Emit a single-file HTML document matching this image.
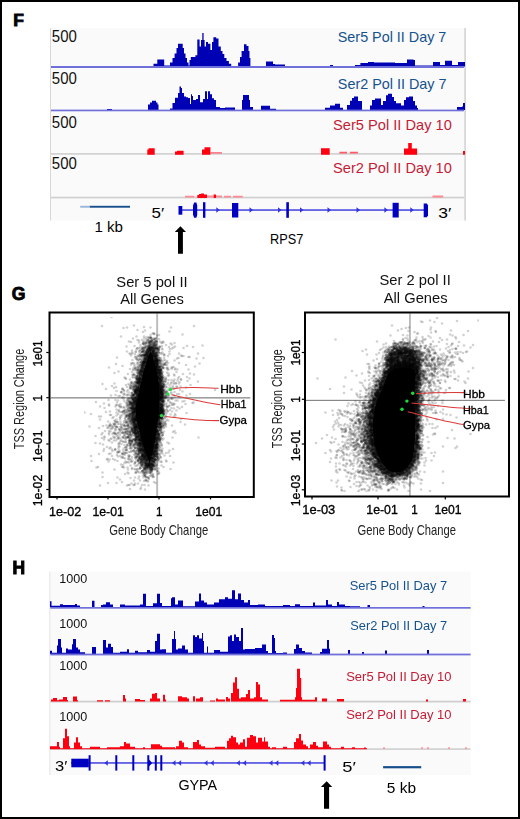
<!DOCTYPE html>
<html><head><meta charset="utf-8"><title>Figure</title>
<style>
html,body{margin:0;padding:0;background:#fff;}
body{width:520px;height:819px;overflow:hidden;position:relative;}
#frame{position:absolute;left:0;top:0;width:516px;height:815px;border:2px solid #000;background:#fff;}
svg{position:absolute;left:0;top:0;font-family:'Liberation Sans', sans-serif;}
</style></head><body>
<div id="frame"></div>
<svg width="520" height="819" viewBox="0 0 520 819">
<text x="13.2" y="25.7" font-size="17.4" fill="#000" stroke="#000" stroke-width="0.9" font-weight="bold">F</text>
<rect x="50" y="28" width="414.2" height="192.5" fill="#fafafa"/>
<rect x="50" y="28" width="1" height="192.5" fill="#d8d8d8"/>
<rect x="464.2" y="28" width="1.8" height="192.5" fill="#d8d8d8"/>
<path d="M153.5 66.5V63.8H157.3V66.5ZM157.3 66.5V59.6H164.2V66.5ZM164.2 66.5V65.5H170V66.5ZM170 66.5V62.6H172.5V66.5ZM172.5 66.5V58H174.6V66.5ZM174.6 66.5V53.4H176.5V66.5ZM176.5 66.5V48H178V66.5ZM178 66.5V43.7H182.7V66.5ZM182.7 66.5V48H184V66.5ZM184 66.5V53.4H185.5V66.5ZM185.5 66.5V58H187V66.5ZM187 66.5V62.6H188.5V66.5ZM188.5 66.5V65.5H189.5V66.5ZM189.5 66.5V60H190.8V66.5ZM190.8 66.5V56.9H195.4V66.5ZM195.4 66.5V55.2H197.3V66.5ZM197.3 66.5V39.5H199.6V66.5ZM199.6 66.5V46.5H201V66.5ZM201 66.5V40H202.3V66.5ZM202.3 66.5V33H203.6V66.5ZM203.6 66.5V40H204.6V66.5ZM204.6 66.5V46.5H206V66.5ZM206 66.5V42H208V66.5ZM208 66.5V43.7H210.4V66.5ZM210.4 66.5V50H212V66.5ZM212 66.5V42H213.4V66.5ZM213.4 66.5V37.2H216.2V66.5ZM216.2 66.5V38.4H218.5V66.5ZM218.5 66.5V46.5H220.8V66.5ZM220.8 66.5V51H222.5V66.5ZM222.5 66.5V54H224.3V66.5ZM224.3 66.5V58H226.5V66.5ZM226.5 66.5V61H228.9V66.5ZM228.9 66.5V63.8H231.2V66.5ZM238.1 66.5V62.6H240V66.5ZM240 66.5V57H241.6V66.5ZM241.6 66.5V51H244V66.5ZM244 66.5V44.2H246.5V66.5ZM246.5 66.5V46H248.5V66.5ZM248.5 66.5V51H249.5V66.5ZM249.5 66.5V58H250.4V66.5ZM266 66.5V61.5H273V66.5ZM273 66.5V64H275V66.5ZM275 66.5V64.5H285V66.5ZM330 66.5V65H333V66.5ZM355 66.5V65H360.4V66.5ZM360.4 66.5V63H368V66.5ZM368 66.5V62H374V66.5ZM374 66.5V62.5H378V66.5ZM378 66.5V62.4H395V66.5ZM395 66.5V63H407V66.5ZM407 66.5V59.6H413.5V66.5ZM413.5 66.5V60H415V66.5ZM415 66.5V65.5H433V66.5ZM433 66.5V62H440V66.5ZM440 66.5V65H445V66.5ZM445 66.5V60.8H451.6V66.5ZM451.6 66.5V60.8H452V66.5ZM452 66.5V65H458V66.5ZM458 66.5V62H465V66.5ZM465 66.5V62H465V66.5Z" fill="#0000b4"/>
<rect x="51" y="66" width="413" height="2" fill="#7070da"/>
<path d="M107 110V109.1H112V110ZM148 110V104.6H150V110ZM150 110V102.5H152V110ZM152 110V100.7H156V110ZM156 110V102.5H157.5V110ZM157.5 110V104.6H158.5V110ZM170 110V108.5H172.5V110ZM172.5 110V103H175V110ZM175 110V97.7H178V110ZM178 110V93H179.5V110ZM179.5 110V86.6H181V110ZM181 110V88H182V110ZM182 110V93H184V110ZM184 110V96.5H186V110ZM186 110V97.2H188V110ZM188 110V98H190V110ZM190 110V104H191V110ZM191 110V94.2H192V110ZM192 110V96H193V110ZM193 110V100H196V110ZM196 110V98.9H198V110ZM198 110V95H200V110ZM200 110V102.3H203V110ZM203 110V98.9H205V110ZM205 110V91.2H207V110ZM207 110V98.9H208V110ZM208 110V91.2H210V110ZM210 110V94.2H212V110ZM212 110V98.2H214V110ZM214 110V100H216V110ZM216 110V107H220V110ZM220 110V108.1H225V110ZM225 110V107.6H235V110ZM242 110V100H243V110ZM243 110V95H249V110ZM249 110V100H250V110ZM250 110V107H253V110ZM261 110V105.8H270V110ZM270 110V108.8H276V110ZM325 110V107.7H330V110ZM330 110V105.4H335V110ZM335 110V103.8H340V110ZM340 110V107.7H343V110ZM347 110V105H350V110ZM350 110V100.8H352V110ZM352 110V98H354V110ZM354 110V96.6H358V110ZM358 110V101H362V110ZM370 110V105.4H372V110ZM372 110V100H375V110ZM375 110V98.6H381V110ZM381 110V105H383V110ZM383 110V101H386V110ZM386 110V95.2H388V110ZM388 110V93.8H392V110ZM392 110V97H394V110ZM394 110V101H396V110ZM396 110V103.3H401V110ZM401 110V105.4H404V110ZM404 110V100H406V110ZM406 110V97.3H409V110ZM409 110V96.5H413V110ZM413 110V101H415V110ZM415 110V105.4H417V110ZM417 110V108H418V110ZM457 110V107H462V110ZM462 110V106.5H463V110ZM463 110V103H465V110ZM465 110V103H465V110Z" fill="#0000b4"/>
<rect x="51" y="109.6" width="413" height="1.7" fill="#7070da"/>
<rect x="51" y="153.1" width="413" height="1.6" fill="#cfcfcf"/>
<path d="M147.3 154.8V149.5H148.5V154.8ZM148.5 154.8V148.2H154.7V154.8ZM175 154.8V151.5H177V154.8ZM177 154.8V150.7H183.6V154.8ZM202 154.8V149.5H204.5V154.8ZM204.5 154.8V147.2H210.4V154.8ZM321 154.8V148.2H329.7V154.8ZM404 154.8V148.6H408.2V154.8ZM408.2 154.8V143.1H411.8V154.8ZM411.8 154.8V148.6H417.1V154.8ZM463 154.8V151H465V154.8Z" fill="#ff0010"/>
<path d="M210.4 153.4V152.2H222V153.4ZM339.4 153.4V151.8H347V153.4ZM349.8 153.4V151.8H357.9V153.4Z" fill="#ff5a6a"/>
<rect x="51" y="196.7" width="413" height="1.7" fill="#cfcfcf"/>
<path d="M197.3 198V195H199V198ZM199 198V194H201V198ZM201 198V193.4H204V198ZM204 198V194.5H207V198ZM213.5 198V194.5H216V198Z" fill="#ff0010"/>
<path d="M185 197.5V195.8H194.3V197.5ZM207 197.5V195.6H213.5V197.5ZM216 197.5V195.6H222V197.5ZM224 197.5V195.8H231V197.5ZM233 197.5V195.8H242.8V197.5ZM432.5 197.5V195.5H443.2V197.5Z" fill="#ff8a94"/>
<text x="51.8" y="41.8" font-size="16.3" fill="#111" textLength="25" lengthAdjust="spacingAndGlyphs">500</text>
<text x="51.8" y="84.2" font-size="16.3" fill="#111" textLength="25" lengthAdjust="spacingAndGlyphs">500</text>
<text x="51.8" y="127.8" font-size="16.3" fill="#111" textLength="25" lengthAdjust="spacingAndGlyphs">500</text>
<text x="51.8" y="168.8" font-size="16.3" fill="#111" textLength="25" lengthAdjust="spacingAndGlyphs">500</text>
<text x="337.8" y="41.5" font-size="15" fill="#16528e" textLength="108.5" lengthAdjust="spacingAndGlyphs">Ser5 Pol II Day 7</text>
<text x="337.8" y="88.5" font-size="15" fill="#16528e" textLength="108.7" lengthAdjust="spacingAndGlyphs">Ser2 Pol II Day 7</text>
<text x="333.0" y="129.8" font-size="15" fill="#c41c36" textLength="118.8" lengthAdjust="spacingAndGlyphs">Ser5 Pol II Day 10</text>
<text x="333.0" y="172.9" font-size="15" fill="#c41c36" textLength="118.8" lengthAdjust="spacingAndGlyphs">Ser2 Pol II Day 10</text>
<rect x="180" y="209.2" width="248" height="1.7" fill="#5656e2"/>
<rect x="178.5" y="206" width="3.8" height="8.7" fill="#0000c0"/>
<path d="M194.2 202.4h2.2l0.8 3v9.6l-0.8 2.8h-2.2l-1.2-3v-9.4z" fill="#0000c0"/>
<rect x="203" y="202.2" width="2.4" height="15.6" fill="#0000c0"/>
<rect x="232" y="203" width="6.3" height="14.5" fill="#0000c0"/>
<rect x="286.3" y="202.2" width="2.6" height="15.6" fill="#0000c0"/>
<rect x="392.6" y="202.8" width="6.1" height="14.7" fill="#0000c0"/>
<path d="M423.7 203.6h3.2l1.1 2v9.6l-1.1 2h-3.2z" fill="#0000c0"/>
<path d="M216.3 207.3L219.8 210L216.3 212.7z" fill="#3434dc"/>
<path d="M249.5 207.3L253 210L249.5 212.7z" fill="#3434dc"/>
<path d="M278.0 207.3L281.5 210L278.0 212.7z" fill="#3434dc"/>
<path d="M300.0 207.3L303.5 210L300.0 212.7z" fill="#3434dc"/>
<path d="M327.5 207.3L331 210L327.5 212.7z" fill="#3434dc"/>
<path d="M356.5 207.3L360 210L356.5 212.7z" fill="#3434dc"/>
<path d="M384.4 207.3L387.9 210L384.4 212.7z" fill="#3434dc"/>
<path d="M410.3 207.3L413.8 210L410.3 212.7z" fill="#3434dc"/>
<text x="151.5" y="217.8" font-size="15" fill="#000" textLength="12.6" lengthAdjust="spacingAndGlyphs">5&#8242;</text>
<text x="438.3" y="217.5" font-size="15" fill="#000" textLength="13" lengthAdjust="spacingAndGlyphs">3&#8242;</text>
<rect x="80.2" y="205.8" width="9.6" height="1.9" fill="#9bb6dc"/>
<rect x="89.8" y="205.8" width="40.2" height="1.9" fill="#184e8c"/>
<text x="94.5" y="232" font-size="14.5" fill="#000" textLength="28.5" lengthAdjust="spacingAndGlyphs">1 kb</text>
<text x="270.0" y="243.5" font-size="15" fill="#000" textLength="33.3" lengthAdjust="spacingAndGlyphs">RPS7</text>
<path d="M180.4 226.3L186 231.9H182.9V253.7H178V231.9H174.8Z" fill="#000"/>
<text x="11.8" y="299.8" font-size="17.6" fill="#000" stroke="#000" stroke-width="0.9" font-weight="bold">G</text>
<rect x="50.5" y="397.2" width="199.8" height="1.3" fill="#888"/>
<rect x="156.2" y="313.5" width="1.9" height="182.5" fill="#bbb"/>
<rect x="305.5" y="399.8" width="199.4" height="1.2" fill="#888"/>
<rect x="409.0" y="313.5" width="1.9" height="182.5" fill="#bbb"/>
<defs><marker id="dt" markerUnits="userSpaceOnUse" markerWidth="8" markerHeight="8" refX="0" refY="0" overflow="visible"><circle r="2.6" fill="#000" fill-opacity="0.18"/></marker><filter id="bl" x="0" y="0" width="1" height="1"><feGaussianBlur stdDeviation="0.45"/></filter></defs><g filter="url(#bl)"><path d="M151.164 349.41L149.548 353.094L146.866 360.808L144.888 366.739L142.925 373.608L141.637 379.56L139.932 386.58L138.436 392.962L136.937 399.556L135.386 406.263L135.497 412.883L135.958 418.841L137.916 425.356L139.526 432.195L141.42 439.373L142.999 445.597L144.866 451.192L146.928 457.089L149.316 462.669L149.729 464.501L150.256 462.398L151.781 456.369L153.066 451.428L154.245 445.827L155.325 439.647L156.125 432.445L157.332 425.598L158.325 418.946L159.311 411.77L159.601 405.74L159.6 399L159.603 392.517L159.011 386.239L158.325 379.254L157.052 372.509L155.574 366.003L153.606 358.722L151.643 352.834L150.642 349.673Z" fill="#000"/>
<polyline transform="scale(.5)" points="223,634 268,651 204,652 388,652 288,654 254,655 342,655 301,655 247,656 275,660 290,661 339,663 286,664 307,667 308,667 305,667 309,668 365,669 301,670 318,670 314,671 273,673 288,673 242,673 301,674 296,674 292,675 301,675 300,675 312,676 302,676 297,676 302,676 311,677 307,677 288,677 266,677 303,677 298,677 318,678 308,678 310,678 310,679 292,679 304,679 296,680 275,680 284,680 297,680 295,680 305,680 302,681 278,681 307,681 303,681 313,682 300,682 310,682 302,682 304,682 294,682 299,683 287,683 312,683 288,683 305,683 326,683 311,683 320,683 301,683 312,683 258,683 298,683 297,684 298,684 309,684 262,684 303,684 302,684 300,684 314,684 305,685 303,685 324,685 278,685 327,685 292,685 308,685 297,685 293,685 292,685 301,686 310,686 323,686 349,686 291,686 308,686 286,686 287,687 300,687 299,687 307,687 297,687 310,687 305,687 341,687 310,687 298,687 290,687 286,687 301,688 293,688 305,688 313,688 286,688 301,689 309,689 289,689 306,689 344,689 312,689 288,689 300,689 307,689 303,690 312,690 298,690 308,690 332,690 312,690 281,690 308,691 308,691 310,691 293,691 303,691 307,691 405,691 301,691 301,691 374,692 269,692 297,692 311,692 311,692 292,692 324,692 298,692 297,692 296,692 320,693 310,693 302,693 309,693 306,693 290,693 306,693 253,693 317,693 306,693 300,693 304,693 350,693 299,693 319,694 295,694 302,694 298,694 311,694 299,694 292,694 304,694 301,694 338,694 386,694 281,694 320,694 286,695 301,695 305,695 314,695 305,695 308,695 296,695 285,695 304,695 290,695 347,695 297,695 309,695 299,695 289,695 317,696 278,696 300,696 313,696 286,696 291,696 311,696 306,696 288,696 304,696 305,696 367,696 301,696 311,696 311,696 299,696 298,696 274,696 313,696 301,696 305,696 296,696 302,696 311,696 316,697 275,697 302,697 301,697 307,697 298,697 284,697 324,697 344,697 311,697 303,697 301,697 299,697 318,697 292,697 296,697 314,697 303,697 306,697 307,697 316,697 300,697 298,698 308,698 284,698 295,698 309,698 340,698 314,698 306,698 310,698 297,698 297,698 305,698 303,698 316,698 299,698 287,698 317,699 313,699 302,699 295,699 309,699 305,699 273,699 311,699 301,699 283,699 325,699 288,699 299,699 298,699 296,699 297,699 318,699 285,699 294,700 288,700 308,700 310,700 295,700 307,700 304,700 301,700 300,700 308,700 318,700 299,700 295,700 299,700 294,700 300,700 280,700 264,701 297,701 305,701 287,701 301,701 315,701 303,701 300,701 300,701 291,701 301,701 303,701 304,701 305,701 317,701 295,701 298,702 310,702 296,702 306,702 298,702 306,702 300,702 307,702 293,702 298,702 308,702 297,702 311,702 315,702 279,702 306,702 339,703 254,703 285,703 304,703 290,703 279,703 305,703 288,703 293,703 272,703 295,703 307,703 285,703 292,703 285,703 287,703 297,703 309,703 304,703 307,703 286,703 308,704 296,704 307,704 271,704 284,704 284,704 305,704 298,704 298,704 293,704 295,704 317,705 309,705 309,705 318,705 312,705 325,705 293,705 317,705 305,705 294,705 318,705 314,705 311,705 299,705 264,705 292,705 294,705 294,705 292,705 306,705 297,705 306,705 304,705 298,705 306,705 308,705 298,706 294,706 282,706 304,706 322,706 309,706 312,706 288,706 312,706 313,706 313,706 305,706 290,706 296,706 306,707 290,707 259,707 295,707 358,707 265,707 299,707 305,707 311,707 279,707 396,707 308,707 295,707 304,707 292,707 306,707 293,707 298,707 299,707 296,707 307,708 305,708 303,708 314,708 311,708 339,708 304,708 323,708 312,708 294,708 300,708 293,708 270,708 308,708 303,708 309,708 298,708 261,708 310,708 295,709 304,709 294,709 298,709 293,709 328,709 299,709 328,709 309,709 299,709 291,709 304,709 308,709 304,709 293,709 300,709 286,709 293,709 309,709 287,709 304,709 304,709 290,709 318,709 284,710 304,710 312,710 299,710 309,710 312,710 289,710 281,710 292,710 294,710 287,710 291,710 294,710 288,710 292,710 313,710 295,710 293,710 316,710 306,710 288,710 287,710 298,710 309,710 290,710 280,710 292,710 284,711 290,711 285,711 305,711 308,711 297,711 309,711 314,711 309,711 304,711 262,711 307,711 283,711 302,711 329,711 314,711 362,711 276,711 290,711 303,711 298,711 305,711 312,711 294,711 314,711 280,711 367,712 298,712 306,712 305,712 278,712 312,712 308,712 315,712 306,712 296,712 282,712 290,712 296,712 284,712 336,712 311,712 311,712 312,712 308,712 364,712 310,712 297,712 288,712 317,713 296,713 288,713 294,713 295,713 309,713 297,713 289,713 276,713 305,713 291,713 293,713 306,713 310,713 295,713 308,713 307,713 310,713 309,713 296,713 271,713 291,714 304,714 310,714 308,714 295,714 297,714 294,714 304,714 311,714 379,714 291,714 273,714 294,714 281,714 312,714 296,714 306,714 377,714 314,715 270,715 284,715 288,715 290,715 310,715 310,715 312,715 286,715 294,715 304,715 295,715 317,715 311,715 234,715 310,715 295,715 306,716 328,716 320,716 306,716 407,716 298,716 296,716 292,716 312,716 321,716 357,716 316,716 279,717 318,717 314,717 312,717 294,717 291,717 296,717 290,717 354,717 290,717 292,717 297,717 293,717 311,717 291,717 314,717 288,717 274,717 313,717 311,717 393,717 292,717 311,717 307,717 310,718 273,718 306,718 296,718 290,718 309,718 288,718 297,718 273,718 306,718 288,718 310,718 297,718 293,718 306,718 280,718 290,718 311,719 321,719 290,719 293,719 283,719 293,719 311,719 309,719 315,719 293,719 296,719 285,719 314,719 314,719 308,719 292,719 311,719 318,720 311,720 278,720 314,720 318,720 288,720 310,720 330,720 312,720 322,720 314,720 311,720 295,720 265,720 316,720 282,720 313,720 277,720 318,720 296,720 317,720 349,721 288,721 314,721 313,721 295,721 310,721 314,721 292,721 275,721 310,721 293,721 314,721 285,721 291,721 327,721 289,721 315,721 289,721 311,721 321,721 312,721 311,722 312,722 311,722 285,722 315,722 295,722 289,722 291,722 288,722 317,722 314,722 290,722 313,722 320,722 317,722 309,722 311,722 323,722 314,722 309,722 320,722 334,722 291,722 307,722 311,722 290,723 293,723 315,723 314,723 311,723 294,723 291,723 292,723 310,723 286,723 312,723 316,723 309,723 288,724 333,724 287,724 311,724 285,724 294,724 287,724 308,724 289,724 312,724 281,724 308,724 289,724 286,724 282,724 290,724 282,724 320,724 289,724 314,724 308,724 314,724 295,724 310,724 311,725 315,725 287,725 288,725 286,725 290,725 317,725 289,725 311,725 288,725 316,725 289,725 311,725 277,725 310,725 310,725 313,725 325,725 310,725 321,725 293,725 309,725 294,725 287,725 293,725 291,725 287,725 287,725 282,725 330,726 315,726 289,726 291,726 313,726 313,726 263,726 292,726 332,726 336,726 274,726 267,726 293,726 290,726 288,726 319,726 358,726 318,727 313,727 276,727 313,727 281,727 399,727 286,727 285,727 312,727 321,727 311,727 309,727 286,727 320,727 316,727 285,727 314,727 315,727 289,727 265,727 308,727 283,728 323,728 287,728 312,728 290,728 285,728 288,728 283,728 312,728 314,728 327,728 286,728 316,728 309,728 329,728 311,728 232,728 314,728 286,728 292,729 309,729 314,729 262,729 269,729 289,729 293,729 312,729 314,729 287,729 329,729 314,729 330,729 310,729 284,730 312,730 280,730 331,730 322,730 279,730 327,730 290,730 309,730 334,730 286,730 275,730 372,730 287,730 317,730 284,730 283,730 316,730 315,730 310,731 313,731 287,731 289,731 317,731 314,731 284,731 290,731 292,731 280,731 290,731 313,731 288,731 286,731 309,731 313,731 316,731 283,731 325,731 321,731 313,731 311,731 291,732 325,732 314,732 311,732 283,732 287,732 291,732 313,732 245,732 311,732 269,732 285,732 289,732 313,732 316,732 390,733 289,733 311,733 315,733 319,733 285,733 320,733 285,733 278,733 309,733 286,733 283,733 322,733 288,733 311,733 274,734 321,734 347,734 311,734 314,734 312,734 287,734 310,734 317,734 284,734 312,734 319,734 277,734 323,734 283,734 314,734 313,734 318,734 320,734 317,734 311,734 318,734 280,734 311,735 286,735 326,735 312,735 335,735 317,735 317,735 218,735 314,735 284,735 313,735 343,735 345,735 327,735 270,735 312,735 284,735 276,735 311,735 318,735 286,735 314,735 291,736 325,736 267,736 333,736 311,736 318,736 283,736 326,736 286,736 283,736 290,736 283,736 311,736 312,736 316,736 291,736 312,736 271,737 313,737 313,737 277,737 311,737 283,737 327,737 312,737 321,737 335,737 287,737 351,737 287,737 286,737 285,737 285,737 289,737 311,737 271,737 271,737 317,737 290,737 288,738 290,738 315,738 313,738 277,738 289,738 320,738 322,738 280,738 282,738 322,738 343,738 260,738 314,738 315,738 290,738 285,738 316,739 267,739 288,739 317,739 335,739 355,739 313,739 377,739 281,739 284,739 350,739 337,739 319,739 318,739 320,739 287,739 320,739 314,739 322,739 316,739 289,739 312,739 291,739 315,739 276,739 274,740 311,740 317,740 273,740 313,740 317,740 284,740 322,740 316,740 288,740 322,740 266,740 289,740 318,740 321,740 290,740 318,740 283,740 276,740 283,740 281,740 280,740 282,741 312,741 321,741 288,741 290,741 271,741 322,741 320,741 276,741 284,741 283,741 313,741 312,741 317,741 283,741 323,741 288,741 314,741 316,741 312,741 316,741 282,741 281,742 311,742 286,742 285,742 320,742 285,742 323,742 287,742 318,742 289,742 281,742 278,742 312,742 277,742 318,743 281,743 318,743 286,743 322,743 319,743 283,743 285,743 289,743 284,743 286,743 237,743 314,743 318,743 280,743 320,743 317,743 277,743 282,743 312,743 314,743 319,743 315,744 287,744 320,744 326,744 318,744 280,744 283,744 314,744 264,744 284,744 353,744 286,744 283,744 280,744 284,744 287,744 321,744 280,745 274,745 334,745 321,745 313,745 314,745 287,745 319,745 324,745 322,745 279,745 287,745 284,745 277,745 317,745 317,745 274,745 313,745 286,745 317,745 318,746 314,746 314,746 314,746 283,746 229,746 277,746 315,746 318,746 320,746 315,746 316,746 313,746 281,746 317,746 278,746 288,746 281,747 282,747 319,747 278,747 312,747 324,747 268,747 337,747 323,747 280,747 276,747 380,747 322,747 321,747 283,747 323,747 313,747 314,747 281,747 317,747 322,747 366,748 288,748 323,748 281,748 318,748 284,748 256,748 319,748 321,748 281,748 314,749 286,749 284,749 320,749 285,749 276,749 319,749 319,749 280,749 315,749 388,749 285,749 316,749 319,749 285,749 348,749 281,749 266,749 317,749 279,749 281,750 319,750 321,750 284,750 277,750 320,750 286,750 270,750 325,750 265,750 269,750 267,750 318,750 315,751 336,751 284,751 315,751 286,751 323,751 281,751 274,751 349,751 278,751 317,751 285,751 281,751 284,751 314,751 338,751 280,751 325,751 280,751 319,752 284,752 275,752 321,752 283,752 314,752 325,752 284,752 318,752 319,752 274,752 321,752 275,752 320,752 314,753 316,753 315,753 273,753 316,753 281,753 315,753 323,753 314,753 315,753 281,753 265,754 280,754 274,754 322,754 270,754 277,754 314,754 322,754 321,754 358,754 314,754 316,754 324,754 284,754 328,754 316,754 316,754 374,754 285,755 324,755 317,755 249,755 318,755 317,755 318,755 266,755 325,755 314,755 324,755 286,755 317,755 274,755 283,755 332,755 324,755 284,755 277,755 271,755 314,755 278,755 279,755 315,755 316,755 279,755 285,755 278,755 320,755 321,755 281,756 318,756 279,756 274,756 316,756 321,756 283,756 324,756 271,756 326,756 316,756 317,756 251,756 278,756 285,757 379,757 356,757 283,757 320,757 320,757 279,757 280,757 273,757 275,757 279,757 318,757 274,757 327,757 283,757 321,757 317,758 280,758 331,758 320,758 323,758 318,758 275,758 284,758 320,758 282,758 273,758 320,758 279,758 319,758 280,758 281,758 324,758 332,758 319,758 252,758 274,758 285,759 321,759 273,759 322,759 285,759 274,759 328,759 278,759 279,759 322,759 276,759 285,759 323,759 362,759 318,759 278,759 280,759 278,759 260,759 317,759 283,759 349,759 279,759 285,759 282,759 362,759 287,759 324,760 315,760 280,760 274,760 337,760 343,760 316,760 282,760 276,760 320,760 276,760 277,760 355,761 281,761 320,761 317,761 326,761 277,761 331,761 284,761 279,761 275,761 323,761 323,761 320,761 281,761 324,761 317,761 321,761 322,762 322,762 326,762 318,762 375,762 280,762 276,762 318,762 320,762 281,762 281,762 321,762 347,762 278,762 317,762 279,763 280,763 276,763 331,763 278,763 284,763 396,763 280,763 272,763 327,763 271,763 331,763 284,763 275,763 319,764 271,764 320,764 278,764 274,764 274,764 278,764 280,764 322,764 275,764 359,764 329,764 273,764 283,764 326,764 323,764 320,764 280,764 264,764 269,764 318,764 276,764 282,764 280,764 316,764 276,765 318,765 348,765 318,765 315,765 276,765 262,765 276,765 316,765 321,765 279,765 281,765 322,765 343,765 281,765 279,765 316,765 325,765 323,765 319,765 277,765 317,765 262,765 283,765 269,766 316,766 276,766 276,766 281,766 265,766 279,766 319,766 281,766 352,766 336,766 275,766 282,766 316,766 273,766 278,766 323,766 317,766 358,767 325,767 273,767 316,767 277,767 282,767 277,767 318,767 320,767 273,767 321,767 275,767 274,767 316,767 322,767 316,767 318,767 327,767 352,767 342,767 229,767 327,768 318,768 269,768 322,768 317,768 257,768 280,768 276,768 267,768 316,768 263,768 320,768 281,768 327,768 205,768 319,768 348,768 322,768 279,768 318,768 317,768 280,769 278,769 283,769 317,769 281,769 317,769 280,769 317,769 326,769 325,769 318,769 263,769 317,769 329,769 317,769 317,769 317,769 273,769 333,769 320,770 252,770 283,770 320,770 273,770 278,770 278,770 282,770 322,770 324,770 271,770 328,770 269,770 339,770 381,770 259,770 318,770 317,771 323,771 282,771 280,771 319,771 321,771 268,771 321,771 322,771 318,771 327,771 316,771 278,771 318,771 328,771 317,771 321,772 326,772 272,772 323,772 274,772 345,772 322,772 278,772 224,772 261,772 328,772 317,772 319,772 319,772 265,772 270,772 274,772 262,772 278,772 278,773 323,773 275,773 272,773 276,773 278,773 331,773 272,773 268,773 324,773 272,773 325,773 322,773 265,773 323,773 361,773 353,773 254,774 354,774 327,774 320,774 318,774 318,774 317,774 260,774 278,774 326,774 277,774 318,774 277,774 324,774 318,774 327,774 268,774 321,774 232,774 271,774 267,774 332,774 325,774 324,774 319,774 270,774 318,775 346,775 278,775 320,775 321,775 280,775 372,775 340,775 317,775 317,775 335,775 275,775 319,775 327,775 266,775 319,775 318,775 326,775 275,775 319,775 275,775 325,775 228,776 262,776 274,776 274,776 323,776 322,776 318,776 278,776 319,776 317,776 325,776 262,776 281,776 278,776 323,776 321,776 267,776 277,776 314,776 274,776 260,776 260,777 343,777 325,777 349,777 276,777 245,777 275,777 273,777 271,777 276,777 323,777 318,777 278,777 277,777 278,778 317,778 267,778 264,778 322,778 322,778 322,778 320,778 212,778 272,778 330,778 320,778 273,778 322,778 321,778 268,778 345,778 323,778 270,778 320,778 245,778 269,778 273,778 324,779 317,779 321,779 325,779 276,779 323,779 327,779 276,779 280,779 323,779 278,779 278,779 275,779 273,779 276,779 320,779 277,779 324,779 272,779 279,779 322,779 320,779 338,779 326,779 245,779 319,779 320,780 269,780 273,780 266,780 271,780 320,780 328,780 273,780 277,780 320,780 326,780 317,780 256,780 271,780 278,780 360,780 430,780 281,781 274,781 276,781 321,781 271,781 318,781 324,781 335,781 318,781 273,781 267,781 272,781 318,781 248,781 320,781 325,781 320,781 329,781 269,781 276,781 273,781 325,781 248,781 274,781 276,782 269,782 272,782 328,782 278,782 276,782 276,782 323,782 233,782 322,782 276,782 273,782 318,782 275,782 322,782 268,782 272,782 271,782 326,782 319,782 270,782 279,782 270,783 325,783 324,783 325,783 321,783 333,783 321,783 323,783 327,783 365,783 270,783 324,783 254,783 272,783 276,783 322,783 321,783 322,783 321,783 318,783 271,783 331,783 321,784 273,784 279,784 278,784 349,784 276,784 242,784 243,784 271,784 318,784 333,784 333,784 271,784 324,784 323,784 323,784 270,785 271,785 319,785 274,785 272,785 258,785 270,785 325,785 272,785 272,785 243,785 265,785 330,785 323,785 323,785 329,785 343,785 270,785 320,785 275,785 321,785 270,785 319,785 271,785 272,785 271,785 326,786 323,786 321,786 327,786 278,786 274,786 322,786 321,786 321,786 276,786 263,786 264,786 319,786 319,786 329,786 275,786 318,786 326,786 333,787 248,787 322,787 276,787 325,787 342,787 334,787 264,787 320,787 323,787 274,787 277,787 320,787 277,787 318,787 323,787 276,787 325,787 323,787 319,788 275,788 324,788 322,788 274,788 268,788 323,788 327,788 380,788 274,788 270,788 332,788 358,788 354,788 272,788 321,789 323,789 273,789 276,789 325,789 269,789 321,789 255,789 323,789 325,789 269,789 326,789 268,789 324,789 269,789 323,789 336,789 266,789 250,789 321,789 274,789 317,789 318,789 318,789 323,789 247,789 320,789 269,789 327,789 231,790 265,790 320,790 322,790 266,790 261,790 326,790 347,790 277,790 265,790 257,790 266,790 318,790 323,790 274,790 276,790 319,790 337,790 275,790 278,791 275,791 318,791 326,791 274,791 330,791 254,791 265,791 278,791 222,791 320,791 373,791 268,791 318,791 332,791 327,791 323,791 318,791 324,791 267,791 240,792 274,792 274,792 338,792 324,792 319,792 262,792 333,792 323,792 318,792 274,792 237,792 324,792 273,792 326,792 276,792 267,792 332,792 279,792 331,793 272,793 318,793 324,793 318,793 317,793 323,793 266,793 270,793 322,793 275,793 262,793 327,793 324,793 327,793 265,793 329,794 270,794 358,794 275,794 270,794 323,794 265,794 336,794 318,794 320,794 325,794 323,794 321,794 321,794 320,794 325,794 333,794 349,794 321,794 265,794 275,794 247,794 320,794 320,794 320,794 332,795 322,795 329,795 321,795 244,795 318,795 272,795 323,795 343,795 273,795 328,795 324,795 327,795 271,795 322,795 323,795 326,795 270,796 267,796 257,796 272,796 332,796 320,796 321,796 321,796 263,796 320,796 271,796 319,796 317,796 271,796 318,796 331,796 269,796 261,796 321,796 265,797 265,797 272,797 275,797 321,797 326,797 276,797 266,797 259,797 276,797 324,797 247,797 276,797 322,797 319,797 344,797 325,797 273,797 320,797 272,797 324,797 319,797 271,797 264,797 318,798 323,798 275,798 274,798 318,798 276,798 271,798 328,798 266,798 257,798 272,798 323,798 321,798 324,798 317,798 325,798 266,798 319,798 341,798 345,798 319,799 329,799 276,799 267,799 336,799 263,799 264,799 269,799 321,799 274,799 321,799 319,799 321,799 272,799 318,799 267,799 268,799 271,799 255,799 268,799 325,799 320,800 337,800 274,800 260,800 231,800 319,800 318,800 275,800 217,800 266,800 266,800 327,800 267,800 322,800 276,800 268,800 318,800 269,800 274,800 325,801 273,801 351,801 273,801 326,801 274,801 255,801 324,801 269,801 248,801 326,801 236,801 324,801 270,801 255,801 270,801 271,801 355,801 321,802 369,802 275,802 273,802 265,802 325,802 321,802 320,802 272,802 324,802 271,802 270,802 274,802 321,802 336,802 326,802 320,802 273,802 258,802 260,803 325,803 268,803 321,803 268,803 327,803 270,803 327,803 258,803 328,803 264,803 269,803 262,803 267,803 325,803 365,803 329,803 325,803 318,803 268,803 272,803 274,804 267,804 260,804 251,804 326,804 260,804 270,804 324,804 340,804 272,804 269,804 192,804 269,804 321,804 268,805 261,805 275,805 257,805 262,805 272,805 272,805 318,805 318,805 272,805 270,805 325,805 387,805 318,805 262,805 257,805 266,805 272,805 234,805 319,805 267,805 266,806 260,806 264,806 319,806 254,806 264,806 327,806 263,806 385,806 323,806 323,806 261,806 341,806 271,806 273,807 261,807 253,807 267,807 260,807 265,807 271,807 321,807 347,807 327,807 325,807 267,807 320,807 273,807 321,807 272,807 333,807 208,807 268,807 318,807 344,807 271,807 269,808 322,808 241,808 263,808 323,808 263,808 321,808 270,808 349,808 263,808 272,808 319,808 371,808 316,808 265,808 267,808 259,808 270,808 321,809 261,809 331,809 271,809 254,809 319,809 321,809 268,809 322,809 318,809 268,809 325,809 270,809 258,809 323,809 323,809 273,809 261,809 267,809 328,809 218,809 271,810 234,810 264,810 257,810 232,810 347,810 273,810 263,810 256,810 324,810 319,810 344,810 238,810 317,810 323,810 327,810 323,810 320,810 326,810 324,810 319,811 264,811 255,811 266,811 261,811 266,811 263,811 266,811 274,811 218,811 323,811 339,811 325,811 272,811 322,811 323,812 271,812 267,812 258,812 268,812 238,812 323,812 327,812 266,812 334,812 338,812 253,812 325,812 269,813 242,813 272,813 272,813 324,813 333,813 317,813 319,813 328,813 323,813 320,813 268,813 264,813 200,813 265,813 318,813 231,813 318,813 267,813 263,813 273,813 241,813 323,814 355,814 248,814 265,814 255,814 266,814 324,814 317,814 336,814 318,814 321,814 323,814 320,814 326,814 364,814 323,814 318,814 270,815 263,815 269,815 265,815 259,815 321,815 324,815 324,815 269,815 260,815 259,815 245,815 322,815 334,815 240,815 262,816 322,816 321,816 265,816 271,816 266,816 249,816 271,816 319,816 261,816 266,816 270,816 318,816 321,816 255,816 320,816 320,816 209,816 325,816 273,816 343,816 263,816 319,816 268,816 264,816 275,817 272,817 270,817 263,817 359,817 326,817 259,817 325,817 271,817 272,817 323,817 267,817 268,817 263,817 266,817 261,817 325,817 325,817 348,817 270,818 324,818 269,818 267,818 322,818 321,818 272,818 263,818 256,818 266,818 269,818 269,818 320,818 263,818 321,818 322,818 265,818 321,818 268,818 323,818 324,818 265,818 271,818 270,819 318,819 325,819 233,819 269,819 321,819 271,819 327,819 328,819 256,819 319,819 319,819 268,819 333,819 272,819 326,819 323,819 333,820 320,820 325,820 269,820 318,820 326,820 254,820 267,820 319,820 328,820 249,820 322,820 251,820 340,820 264,820 322,820 322,820 318,820 264,820 264,820 274,821 268,821 322,821 268,821 238,821 319,821 271,821 272,821 325,821 260,821 260,821 267,821 258,821 323,821 317,821 322,821 267,821 320,821 271,821 353,821 237,821 269,821 319,821 259,822 270,822 324,822 271,822 317,822 263,822 322,822 248,822 326,822 325,822 315,822 323,822 266,822 247,822 324,822 329,822 324,822 257,822 269,822 323,822 263,822 321,822 336,822 318,822 326,822 328,822 323,822 272,822 257,822 272,822 321,823 252,823 267,823 325,823 324,823 220,823 344,823 262,823 246,823 326,823 324,823 318,823 271,823 266,823 335,823 269,823 328,823 324,823 267,823 324,823 249,823 268,824 254,824 322,824 265,824 325,824 323,824 239,824 330,824 321,824 268,824 265,824 267,824 268,824 321,824 272,824 212,824 269,824 317,824 268,824 321,824 320,824 244,824 265,824 324,824 269,824 320,824 243,824 325,825 319,825 272,825 324,825 321,825 319,825 266,825 268,825 270,825 323,825 247,825 270,825 267,825 319,825 264,825 320,825 319,825 318,825 169,825 254,825 233,825 272,826 321,826 266,826 323,826 265,826 326,826 322,826 260,826 325,826 258,826 251,826 333,826 328,826 373,826 325,826 319,826 324,826 319,826 271,826 327,826 319,827 268,827 266,827 327,827 321,827 318,827 257,827 321,827 323,827 268,827 319,827 266,827 270,827 263,827 262,827 266,827 263,827 250,827 265,828 317,828 274,828 247,828 261,828 318,828 274,828 182,828 320,828 327,828 318,828 318,828 264,828 315,828 271,828 350,828 327,828 328,828 321,828 267,828 269,828 236,828 267,828 319,828 261,828 264,828 327,828 320,829 341,829 327,829 258,829 261,829 323,829 260,829 320,829 325,829 332,829 320,830 255,830 258,830 220,830 325,830 271,830 321,830 259,830 324,830 253,830 255,830 271,830 267,830 222,830 265,830 273,830 233,831 317,831 270,831 267,831 251,831 320,831 241,831 266,831 324,831 320,831 351,831 262,831 267,831 260,831 254,831 322,831 272,831 267,831 316,831 319,831 269,831 244,831 327,831 268,832 323,832 320,832 259,832 264,832 320,832 317,832 269,832 316,832 272,832 258,832 264,832 273,832 318,832 255,832 272,832 326,832 329,832 319,832 322,832 265,832 322,832 262,832 252,833 266,833 325,833 264,833 272,833 319,833 263,833 316,833 258,833 198,833 252,833 319,833 322,833 271,833 202,833 272,833 272,833 317,833 332,833 254,833 348,833 318,834 318,834 331,834 253,834 227,834 323,834 324,834 266,834 258,834 259,834 322,834 271,834 268,834 273,834 270,834 260,834 318,835 273,835 266,835 323,835 321,835 323,835 320,835 240,835 264,835 323,835 272,835 321,835 315,835 317,835 319,835 270,835 241,835 257,836 318,836 317,836 321,836 323,836 317,836 267,836 324,836 329,836 250,836 263,836 319,836 323,836 269,836 225,836 263,836 319,836 262,836 260,836 269,836 317,836 317,836 267,836 269,836 271,837 268,837 322,837 270,837 265,837 272,837 316,837 266,837 323,837 258,837 324,837 318,837 320,837 315,837 269,837 325,837 272,837 270,837 265,837 329,837 266,837 265,838 275,838 273,838 268,838 326,838 271,838 271,838 271,838 362,838 315,838 257,838 270,838 318,838 324,838 261,838 250,838 257,838 268,838 270,838 264,838 273,838 270,838 318,839 271,839 334,839 276,839 271,839 318,839 265,839 233,839 256,839 321,839 272,839 200,839 263,839 274,839 315,839 240,839 264,840 317,840 273,840 260,840 318,840 273,840 267,840 262,840 274,840 317,840 273,840 270,840 269,840 314,840 252,840 264,840 271,840 268,840 274,841 272,841 325,841 260,841 322,841 267,841 268,841 270,841 337,841 274,841 270,841 316,841 264,841 316,841 268,841 270,841 318,841 271,841 229,841 317,841 273,841 273,841 273,841 267,841 267,841 266,841 332,842 230,842 317,842 261,842 327,842 316,842 263,842 322,842 274,842 275,842 267,842 263,842 258,842 270,842 250,842 271,843 319,843 321,843 255,843 270,843 216,843 268,843 254,843 317,843 273,843 317,843 270,843 248,843 319,843 275,844 231,844 274,844 235,844 361,844 253,844 241,844 259,844 262,844 268,844 276,844 260,844 268,844 265,844 314,844 235,844 267,844 321,844 266,844 314,844 267,844 268,844 276,844 325,844 233,844 264,845 265,845 330,845 269,845 314,845 318,845 278,845 268,845 252,845 265,845 253,845 330,845 276,845 319,845 253,846 271,846 268,846 326,846 275,846 271,846 274,846 267,846 321,846 270,846 318,846 248,846 322,846 276,846 263,846 320,846 276,847 323,847 220,847 329,847 323,847 272,847 268,847 317,847 318,847 268,847 257,847 276,847 315,847 317,847 270,847 227,847 320,847 318,847 315,847 258,847 318,847 320,847 262,847 271,847 266,847 317,848 276,848 327,848 229,848 273,848 236,848 229,848 239,848 319,848 243,848 271,848 316,848 320,848 269,848 274,848 320,848 231,848 321,848 263,848 261,848 322,848 332,848 314,848 273,848 370,849 331,849 320,849 267,849 270,849 269,849 274,849 269,849 313,849 275,849 318,849 268,849 264,849 256,849 276,849 319,849 273,850 319,850 228,850 315,850 277,850 275,850 271,850 315,850 321,850 243,850 319,850 273,850 320,850 326,850 272,850 267,850 221,850 248,850 267,850 255,850 271,850 275,851 315,851 247,851 249,851 213,851 250,851 328,851 330,851 219,851 325,851 322,851 256,851 316,851 268,851 261,851 271,851 219,851 274,851 255,851 266,851 273,851 344,851 223,851 265,851 273,852 272,852 315,852 325,852 252,852 315,852 322,852 326,852 277,852 270,852 276,852 275,852 258,852 206,852 269,852 321,852 255,852 231,852 276,852 275,852 179,853 219,853 314,853 273,853 332,853 271,853 315,853 320,853 268,853 231,853 263,853 271,853 316,853 249,853 256,853 273,853 275,853 271,853 319,853 274,853 320,853 226,853 274,853 317,853 272,853 268,853 242,853 271,854 322,854 270,854 275,854 313,854 273,854 316,854 323,854 269,854 241,854 313,854 234,854 233,854 322,854 235,854 273,854 224,854 318,854 270,854 261,854 267,854 274,854 323,854 313,854 258,855 269,855 270,855 314,855 278,855 327,855 272,855 270,855 275,855 278,855 272,855 322,855 262,855 273,855 322,855 268,855 265,855 318,855 277,855 274,855 271,855 317,855 216,855 244,855 269,856 262,856 322,856 257,856 278,856 272,856 276,856 318,856 198,856 215,856 276,856 319,856 328,856 243,856 278,856 313,856 268,856 266,856 226,856 320,856 318,856 266,856 272,856 279,857 273,857 274,857 275,857 252,857 272,857 270,857 221,857 270,857 258,857 231,857 276,857 272,857 264,857 264,858 264,858 278,858 249,858 238,858 263,858 314,858 253,858 275,858 255,858 271,858 252,858 243,858 269,858 271,858 278,858 223,858 268,858 321,858 324,858 248,858 238,859 320,859 281,859 264,859 231,859 255,859 312,859 276,859 270,859 316,859 276,859 276,859 314,859 272,859 265,859 270,859 240,859 312,859 318,860 274,860 250,860 313,860 317,860 321,860 321,860 245,860 271,860 268,860 269,860 313,860 312,860 268,860 266,860 272,860 313,861 269,861 270,861 260,861 313,861 264,861 261,861 273,861 270,861 317,861 277,861 273,861 272,861 265,861 275,861 278,861 240,861 264,861 231,861 314,861 317,861 264,861 321,861 321,861 311,862 316,862 314,862 218,862 210,862 265,862 277,862 274,862 315,862 349,862 275,862 315,862 271,862 270,862 256,862 280,862 255,862 241,862 313,862 280,863 314,863 324,863 312,863 272,863 312,863 328,863 275,863 253,863 260,863 316,863 311,863 276,863 221,863 274,863 269,863 268,863 276,863 266,863 276,863 277,863 252,863 311,863 250,864 279,864 270,864 262,864 281,864 317,864 312,864 346,864 245,864 281,864 258,864 315,864 278,864 276,864 270,864 261,864 311,864 268,864 256,864 314,864 281,864 267,864 322,864 251,864 270,864 317,864 266,864 271,865 322,865 276,865 277,865 313,865 270,865 322,865 265,865 260,865 275,865 312,865 237,865 316,865 267,865 246,865 278,865 313,865 228,865 254,866 312,866 241,866 270,866 229,866 245,866 267,866 272,866 315,866 317,866 227,866 315,866 271,866 274,866 275,866 325,866 275,866 272,866 351,866 250,866 236,866 205,866 245,866 323,866 268,866 218,866 277,866 271,866 274,866 326,867 269,867 253,867 260,867 278,867 279,867 272,867 278,867 276,867 312,867 272,867 316,867 311,867 280,867 232,867 266,867 259,867 249,867 311,867 262,868 311,868 279,868 256,868 277,868 312,868 231,868 271,868 254,868 276,868 319,868 273,868 274,868 311,868 230,868 271,868 225,868 279,868 319,868 310,868 316,868 278,868 270,868 315,868 273,868 318,868 267,868 235,869 249,869 315,869 317,869 318,869 271,869 281,869 318,869 315,869 275,869 203,869 259,869 281,869 218,869 318,869 318,869 278,869 240,870 312,870 273,870 272,870 262,870 275,870 310,870 325,870 315,870 264,870 256,870 313,870 311,870 260,870 282,870 280,870 311,870 325,870 311,870 312,870 325,871 318,871 275,871 280,871 316,871 319,871 281,871 249,871 270,871 281,871 317,871 278,871 259,871 282,871 311,871 269,871 271,871 282,871 272,871 264,871 278,871 277,871 280,872 315,872 258,872 278,872 276,872 233,872 191,872 281,872 310,872 249,872 268,872 276,872 281,872 323,872 272,872 319,872 310,872 278,873 277,873 315,873 276,873 227,873 280,873 310,873 318,873 209,873 275,873 283,873 275,873 310,873 312,873 272,873 272,873 283,873 236,873 262,873 277,873 253,874 275,874 319,874 317,874 245,874 312,874 276,874 256,874 281,874 274,874 278,874 257,874 318,874 275,874 283,874 246,874 256,874 313,874 255,874 273,875 276,875 283,875 397,875 272,875 277,875 209,875 260,875 315,875 273,875 318,875 239,875 284,875 320,875 310,875 263,875 273,875 282,875 279,875 345,875 315,875 316,875 281,875 311,875 252,875 273,875 228,875 282,875 284,875 272,875 313,875 236,876 312,876 322,876 311,876 253,876 283,876 257,876 248,876 311,876 315,876 309,876 204,876 230,876 246,876 284,876 310,876 282,876 281,876 257,876 283,876 280,876 312,876 271,876 314,876 318,876 317,877 272,877 238,877 312,877 275,877 283,877 314,877 260,877 251,877 223,877 327,877 282,877 272,877 323,877 309,877 277,877 283,877 309,877 322,877 314,877 311,877 280,877 280,878 235,878 311,878 316,878 279,878 268,878 310,878 284,878 267,878 277,878 279,878 274,878 278,878 311,878 317,878 221,878 320,878 279,878 284,878 319,878 310,878 282,878 317,878 281,878 319,879 273,879 274,879 279,879 208,879 278,879 270,879 271,879 278,879 279,879 282,879 280,879 273,879 269,879 261,879 317,879 312,879 269,879 319,879 314,879 242,879 273,879 265,879 320,879 251,880 260,880 311,880 311,880 280,880 266,880 285,880 265,880 280,880 320,880 284,880 282,880 283,880 282,880 315,880 284,880 282,880 276,880 277,880 314,880 273,880 217,880 283,880 325,880 270,880 313,880 270,880 284,880 281,880 284,881 258,881 272,881 277,881 285,881 311,881 316,881 311,881 284,881 279,881 280,881 311,881 258,881 319,881 280,881 280,881 313,881 259,881 273,881 311,881 232,881 284,881 311,881 285,881 285,881 308,881 261,881 228,881 315,881 319,882 264,882 263,882 219,882 281,882 320,882 261,882 283,882 284,882 282,882 277,882 270,882 260,882 243,882 279,882 271,882 313,882 281,882 277,882 264,882 282,883 265,883 317,883 264,883 283,883 284,883 240,883 246,883 315,883 309,883 308,883 271,883 312,883 280,883 274,884 285,884 309,884 247,884 258,884 273,884 286,884 321,884 309,884 251,884 277,884 285,884 285,884 310,884 286,884 251,884 311,884 311,884 317,884 282,884 277,885 273,885 285,885 315,885 272,885 260,885 224,885 311,885 283,885 310,885 286,885 314,885 263,885 284,885 286,885 265,885 284,885 314,885 270,885 335,885 279,885 314,885 280,885 280,886 281,886 191,886 239,886 275,886 319,886 278,886 308,886 322,886 281,886 285,886 278,886 258,886 314,886 278,886 259,886 314,887 281,887 281,887 308,887 308,887 270,887 280,887 200,887 281,887 286,887 282,887 281,887 338,887 284,887 279,887 263,887 284,887 312,887 262,887 274,887 276,887 237,887 286,887 277,887 272,887 282,888 312,888 277,888 243,888 286,888 284,888 269,888 316,888 283,888 272,888 315,888 314,888 255,888 279,888 312,888 309,888 280,888 286,888 283,888 280,888 260,888 261,888 206,889 310,889 313,889 261,889 280,889 286,889 307,889 323,889 313,889 318,889 266,889 238,889 315,889 283,889 314,889 276,889 281,889 282,889 283,889 312,889 273,889 268,889 279,889 284,889 307,890 311,890 323,890 313,890 314,890 318,890 268,890 309,890 285,890 281,890 315,890 277,890 275,890 277,890 249,890 312,890 270,890 255,890 276,890 312,890 312,890 288,890 311,890 285,890 312,891 254,891 311,891 277,891 307,891 313,891 260,891 307,891 284,891 267,891 285,891 285,891 275,891 283,891 280,891 311,891 314,891 261,891 278,892 285,892 260,892 283,892 282,892 272,892 311,892 287,892 276,892 280,892 280,892 263,892 280,892 307,892 311,892 288,892 288,892 255,892 323,892 286,892 312,892 317,892 307,892 287,892 280,893 268,893 317,893 310,893 280,893 307,893 309,893 237,893 287,893 286,893 267,893 316,893 312,893 307,893 287,893 280,893 312,893 284,893 239,893 313,894 251,894 287,894 313,894 285,894 311,894 284,894 308,894 313,894 309,894 320,894 315,894 286,894 214,894 308,895 310,895 276,895 280,895 306,895 312,895 221,895 252,895 279,895 282,895 312,895 307,895 271,895 319,895 251,895 275,895 280,895 288,895 310,895 315,895 310,895 314,895 307,895 307,896 260,896 306,896 275,896 313,896 311,896 313,896 285,896 263,896 313,896 273,896 281,896 263,896 314,896 270,896 277,896 270,896 285,896 310,896 307,896 308,896 306,896 290,896 282,897 325,897 285,897 284,897 254,897 289,897 278,897 316,897 287,897 311,897 247,897 289,897 314,897 306,897 316,897 237,897 286,897 282,897 284,897 260,897 312,897 219,897 286,897 270,897 278,898 208,898 312,898 230,898 346,898 310,898 285,898 312,898 290,898 279,898 282,898 277,898 317,898 308,898 277,898 285,898 283,898 282,899 309,899 224,899 280,899 283,899 321,899 285,899 311,899 309,899 285,899 290,899 282,899 311,899 288,899 231,899 275,899 290,899 279,899 290,899 309,899 306,900 287,900 317,900 289,900 283,900 307,900 277,900 286,900 309,900 283,900 274,900 320,900 287,900 288,900 251,900 287,900 252,900 282,900 289,900 286,900 287,900 314,900 279,900 307,900 280,900 253,900 230,900 280,900 282,900 289,901 246,901 288,901 306,901 267,901 309,901 339,901 281,901 263,901 291,901 291,901 278,901 324,901 306,901 315,901 280,901 267,901 290,901 268,901 254,901 310,901 305,901 239,901 288,901 290,901 286,901 310,902 289,902 278,902 287,902 304,902 324,902 306,902 282,902 285,902 271,902 225,902 311,902 313,902 311,902 288,902 273,902 279,902 283,902 290,902 307,902 285,902 317,902 275,902 312,902 207,902 305,902 278,902 313,902 283,902 309,903 290,903 310,903 311,903 307,903 309,903 321,903 279,903 287,903 309,903 283,903 312,903 236,903 314,903 306,903 304,903 278,903 312,903 288,903 267,903 304,903 263,903 281,904 288,904 284,904 307,904 279,904 305,904 277,904 292,904 291,904 239,904 308,904 283,904 308,904 258,904 310,904 286,904 290,904 238,904 261,904 309,904 249,904 292,904 307,904 235,905 306,905 284,905 307,905 282,905 277,905 271,905 337,905 290,905 291,905 310,905 314,905 292,905 292,905 235,905 291,905 287,905 271,905 323,905 288,905 316,906 291,906 332,906 287,906 250,906 291,906 307,906 285,906 245,906 285,906 279,906 272,906 305,906 305,906 281,906 252,906 290,906 280,906 306,906 254,906 315,906 311,906 313,906 289,907 304,907 309,907 246,907 282,907 276,907 290,907 271,907 289,907 305,907 290,907 292,907 308,907 306,907 288,907 325,907 287,907 305,907 312,907 306,907 303,907 307,907 290,907 221,907 310,907 273,908 285,908 308,908 314,908 293,908 198,908 305,908 314,908 315,908 312,908 290,908 310,908 282,908 285,908 304,908 308,908 313,908 319,908 274,908 276,908 244,908 307,908 249,908 306,908 306,908 310,908 245,908 278,908 319,908 278,908 218,908 285,909 313,909 310,909 303,909 291,909 286,909 284,909 287,909 268,909 307,909 277,909 291,909 305,909 293,909 314,909 293,909 303,909 290,910 270,910 307,910 303,910 316,910 310,910 303,910 277,910 292,910 234,910 305,910 284,910 288,910 309,910 285,910 249,910 307,910 286,910 304,910 288,910 285,910 303,910 284,910 293,910 290,911 286,911 319,911 286,911 303,911 294,911 294,911 273,911 258,911 329,911 312,911 285,911 285,911 311,911 289,911 275,911 305,911 257,911 309,911 291,911 308,911 293,912 292,912 313,912 310,912 288,912 310,912 281,912 260,912 287,912 340,912 277,912 224,912 289,912 283,912 290,912 291,912 305,912 182,912 284,912 288,912 240,912 293,912 309,912 291,912 285,913 283,913 290,913 245,913 287,913 309,913 272,913 308,913 313,913 306,913 292,913 285,913 278,913 285,913 315,913 274,913 310,913 308,913 281,913 315,913 288,913 314,913 290,913 320,913 236,913 294,913 286,913 284,914 273,914 293,914 304,914 322,914 287,914 302,914 258,914 288,914 279,914 314,914 274,914 291,914 295,914 306,914 264,914 270,914 283,914 288,914 305,914 311,914 290,915 291,915 308,915 307,915 303,915 281,915 292,915 291,915 273,915 296,915 243,915 290,915 305,915 284,915 287,915 305,915 257,915 304,915 309,915 316,915 245,915 280,915 278,915 321,916 292,916 281,916 302,916 303,916 302,916 303,916 303,916 310,916 247,916 289,916 287,916 278,916 271,916 293,916 306,916 287,916 302,916 295,916 317,916 285,916 302,916 316,916 280,917 289,917 304,917 279,917 278,917 289,917 305,917 293,917 304,917 250,917 289,917 271,917 306,917 281,917 291,917 290,917 313,917 285,917 306,917 294,917 303,917 305,917 303,917 297,917 294,917 282,918 215,918 226,918 306,918 281,918 285,918 294,918 263,918 294,918 302,918 289,918 289,918 256,918 304,918 276,918 295,918 309,918 285,918 295,918 214,919 308,919 291,919 311,919 289,919 305,919 260,919 284,919 315,919 311,919 284,919 278,919 310,919 307,919 282,919 303,919 288,919 310,919 309,919 219,919 310,919 295,919 318,919 311,919 301,919 295,919 316,919 296,919 300,919 285,919 309,919 293,919 291,919 317,919 258,919 283,919 282,920 289,920 296,920 230,920 287,920 273,920 277,920 280,920 291,920 301,920 288,920 286,920 311,920 296,920 301,920 283,921 305,921 293,921 287,921 312,921 294,921 293,921 309,921 295,921 276,921 277,921 292,921 332,921 303,921 282,921 303,921 302,921 297,921 297,921 307,922 306,922 276,922 294,922 284,922 291,922 303,922 304,922 265,922 290,922 306,922 303,922 276,922 287,922 235,922 292,922 309,922 183,922 283,922 302,922 295,922 276,923 217,923 291,923 292,923 287,923 293,923 251,923 307,923 307,923 333,923 317,923 295,923 263,923 308,923 306,923 282,923 262,923 280,923 286,923 307,923 313,923 322,923 303,924 297,924 285,924 255,924 282,924 288,924 308,924 298,924 308,924 323,924 282,924 290,924 271,924 298,924 309,925 270,925 347,925 304,925 295,925 301,925 291,925 296,925 287,925 283,925 282,925 307,925 299,925 302,925 281,925 285,925 253,925 258,925 280,926 249,926 297,926 290,926 293,926 290,926 299,926 293,926 287,926 305,926 291,926 270,926 310,926 310,926 305,926 302,926 292,926 278,926 297,927 285,927 279,927 292,927 301,927 300,927 303,927 296,927 301,927 291,927 292,927 298,927 286,927 292,927 282,927 305,927 291,927 305,928 299,928 296,928 295,928 294,928 295,928 283,928 303,928 304,928 286,928 298,928 302,928 314,928 298,928 302,928 269,928 310,928 300,928 293,928 305,929 284,929 290,929 290,929 298,929 285,929 298,929 306,929 297,929 298,929 306,929 297,929 304,929 294,929 301,929 298,929 276,929 242,929 298,929 296,929 306,929 292,929 309,929 295,930 309,930 293,930 299,930 304,930 246,930 295,930 298,930 302,930 297,930 291,930 304,930 285,930 290,930 282,930 299,930 293,930 299,930 304,930 298,931 305,931 307,931 314,931 261,931 299,931 305,931 288,931 299,931 292,931 297,931 293,931 305,931 307,931 284,931 282,931 302,931 297,931 284,931 323,931 312,931 306,931 297,931 300,931 274,931 294,931 308,931 291,931 296,932 297,932 295,932 293,932 311,932 302,932 301,932 300,932 290,932 271,932 285,932 307,932 305,932 294,933 295,933 299,933 310,933 289,933 304,933 293,933 280,933 297,933 300,933 293,933 294,933 307,933 301,934 297,934 297,934 293,934 286,934 303,934 309,934 244,934 246,934 196,934 303,934 291,934 290,934 299,934 307,934 295,934 327,934 302,934 193,935 295,935 283,935 300,935 304,935 255,935 289,935 300,935 303,935 248,935 301,935 296,935 293,935 293,936 302,936 293,936 305,936 281,936 280,936 296,936 302,936 264,936 300,936 288,936 291,936 305,936 288,936 311,937 304,937 289,937 300,937 290,937 312,937 317,937 280,937 292,937 289,938 296,938 341,938 301,938 304,938 289,938 275,938 269,938 304,938 307,938 264,938 295,938 279,938 299,938 300,938 300,939 303,939 310,939 310,939 290,939 306,939 271,939 305,939 256,939 292,939 229,939 290,939 274,939 304,939 294,940 303,940 287,940 302,940 288,940 303,940 299,941 286,941 292,941 301,941 285,942 314,942 303,942 285,942 285,942 275,942 316,942 297,942 292,943 300,943 295,943 302,943 304,943 284,943 272,944 303,944 276,944 289,944 283,945 289,945 279,945 291,945 255,945 289,945 318,945 271,945 292,945 295,945 300,945 205,945 300,946 300,946 272,946 286,946 295,946 288,946 257,947 302,947 318,947 292,948 316,948 306,948 288,948 250,948 289,949 290,950 305,950 286,951 305,951 290,951 302,951 300,952 289,952 290,952 307,953 278,953 292,954 293,954 205,954 307,954 305,954 296,955 287,955 235,955 292,955 270,955 297,955 261,956 297,956 277,957 298,958 240,959 292,960 291,960 268,961 295,961 280,961 292,962 288,962 296,963 244,964 308,964 311,966 216,966 233,966 270,967 276,967 263,967 284,970 259,970 257,970 289,970 267,970 269,970 200,971 297,971 254,971 282,975 260,978 281,978 290,979" fill="none" stroke="none" marker-start="url(#dt)" marker-mid="url(#dt)" marker-end="url(#dt)"/>
<path d="M388.023 373.469L393.132 369.229L400.305 367.481L408.653 367.476L414.29 368.824L416.02 374.315L415.006 384.824L414.5 394.979L415.001 410.083L415.5 425L415.004 439.855L414.034 451.592L411.699 461.022L407.232 468.232L400.311 472.597L392.642 472.584L386.633 469.107L381.612 462.662L377.324 454.078L374.449 444.496L372.996 431.856L372.995 420.155L374.446 408.516L377.324 398.922L381.292 390.999L384.331 382.903Z" fill="#000"/>
<polyline transform="scale(.5)" points="874,636 957,641 860,641 914,642 842,643 845,644 869,644 884,647 784,651 818,655 862,655 812,656 803,658 861,659 796,661 902,661 871,662 817,662 936,662 829,664 872,664 862,665 834,667 836,667 900,669 806,670 927,670 905,671 781,671 815,671 857,672 845,674 911,674 861,675 833,675 811,676 880,676 912,677 815,677 851,678 806,678 846,678 671,679 832,679 894,679 830,680 884,680 849,680 806,680 816,681 832,681 788,682 845,682 839,682 828,683 866,683 844,683 754,683 835,684 918,684 804,684 819,684 878,684 826,684 800,684 807,684 810,685 804,685 802,685 802,685 799,685 808,686 825,686 811,686 846,686 790,686 828,686 816,686 787,686 791,686 817,686 815,687 827,687 824,687 830,687 799,687 813,687 795,687 790,687 905,687 813,687 811,687 802,687 814,687 772,687 840,687 817,687 827,688 796,688 904,688 788,688 861,688 808,688 787,688 815,688 806,688 894,688 796,688 792,688 809,689 862,689 806,689 767,689 792,689 810,689 819,689 807,690 794,690 802,690 946,690 816,690 823,690 786,691 902,691 928,691 798,691 830,691 805,691 794,691 801,691 816,691 852,691 792,692 842,692 916,692 788,692 814,692 798,692 852,692 828,692 789,692 842,692 813,692 790,692 873,692 849,692 826,693 792,693 806,693 789,693 833,693 840,693 860,693 778,693 798,693 817,693 811,693 823,693 804,693 833,693 832,693 821,693 868,693 786,693 788,694 836,694 807,694 897,694 784,694 793,694 835,694 812,694 841,694 772,694 799,694 782,694 827,694 824,694 799,694 784,695 781,695 808,695 824,695 809,695 788,695 941,695 802,695 800,695 767,695 803,695 800,695 806,695 859,695 804,695 794,695 786,695 794,695 809,695 863,695 826,695 798,695 810,695 812,695 790,696 813,696 789,696 811,696 849,696 820,696 850,696 813,696 811,696 777,696 807,696 816,696 810,696 791,696 797,696 795,696 800,696 809,696 806,696 850,696 788,696 817,696 818,696 833,696 832,697 793,697 801,697 838,697 912,697 822,697 815,697 814,697 788,697 808,697 829,697 802,697 826,697 793,697 892,697 812,697 827,697 842,697 788,697 779,697 809,697 793,697 911,697 789,697 802,697 808,698 905,698 804,698 815,698 803,698 817,698 789,698 811,698 855,698 813,698 808,698 763,698 802,698 912,698 792,698 800,698 826,698 807,698 779,698 789,698 818,698 787,698 796,698 795,699 880,699 812,699 775,699 805,699 809,699 793,699 791,699 800,699 816,699 855,699 793,699 804,699 787,699 772,699 868,699 857,699 824,699 822,699 813,699 796,699 811,699 805,699 775,699 813,699 806,699 864,699 787,699 802,699 732,699 797,699 825,699 834,700 837,700 818,700 840,700 784,700 822,700 814,700 805,700 818,700 865,700 785,700 795,700 813,700 809,700 797,700 809,700 819,700 782,700 823,700 799,700 820,700 784,700 900,700 805,700 825,700 816,700 805,700 760,700 795,700 808,700 800,700 778,700 822,701 794,701 832,701 795,701 819,701 810,701 836,701 809,701 858,701 812,701 816,701 813,701 819,701 794,701 823,701 785,701 853,701 825,701 796,701 821,701 826,701 776,701 809,701 800,701 827,701 798,701 799,701 826,701 777,701 803,701 797,701 798,701 800,701 802,701 783,701 813,701 793,701 812,701 809,701 815,702 791,702 803,702 828,702 786,702 896,702 801,702 793,702 838,702 858,702 800,702 803,702 814,702 803,702 725,702 815,702 831,702 831,702 822,702 811,702 813,702 779,702 828,702 824,702 785,702 828,702 834,702 838,702 798,702 817,702 836,702 785,702 770,702 827,702 824,702 831,702 813,702 824,702 820,702 797,702 815,703 785,703 832,703 818,703 830,703 818,703 801,703 824,703 808,703 822,703 813,703 789,703 809,703 796,703 869,703 860,703 771,703 795,703 810,703 811,703 799,703 857,703 810,703 793,703 814,703 818,703 794,703 815,703 840,703 817,703 804,703 781,703 809,703 820,703 787,703 934,703 770,703 833,703 774,704 774,704 811,704 829,704 932,704 809,704 795,704 816,704 798,704 817,704 802,704 859,704 824,704 805,704 830,704 801,704 798,704 821,704 915,704 830,704 835,704 814,704 820,704 833,704 802,704 838,704 781,704 839,704 792,704 830,704 819,704 796,704 921,704 805,704 803,704 804,704 783,704 801,704 825,704 788,704 820,704 843,704 809,704 855,704 815,704 825,704 778,704 790,704 821,704 802,704 840,705 790,705 823,705 803,705 900,705 812,705 783,705 799,705 822,705 815,705 808,705 789,705 899,705 777,705 822,705 845,705 819,705 837,705 817,705 834,705 803,705 777,705 790,705 827,705 797,705 792,705 793,705 833,705 801,705 829,705 787,705 804,705 797,705 780,705 848,705 799,705 802,705 822,705 796,705 813,705 809,705 802,705 798,705 782,705 792,705 910,705 767,705 799,705 803,705 842,705 804,705 826,705 788,705 793,705 811,705 810,705 789,705 808,705 785,706 811,706 871,706 831,706 801,706 802,706 788,706 829,706 849,706 810,706 810,706 870,706 821,706 815,706 811,706 802,706 806,706 804,706 797,706 821,706 809,706 814,706 804,706 798,706 802,706 827,706 814,706 859,706 830,706 824,706 849,706 758,706 813,706 926,706 771,706 784,706 805,706 803,706 818,706 824,706 787,706 784,706 827,706 799,706 803,706 799,706 810,706 809,706 844,706 813,706 824,706 790,706 816,706 782,706 800,706 838,706 817,706 798,706 796,707 812,707 809,707 795,707 802,707 790,707 782,707 780,707 819,707 869,707 819,707 867,707 822,707 887,707 798,707 846,707 808,707 792,707 784,707 823,707 820,707 833,707 824,707 813,707 791,707 801,707 803,707 872,707 806,707 799,707 810,707 779,707 810,707 784,707 806,707 802,707 789,707 819,707 779,707 799,707 836,707 775,707 794,707 823,707 785,707 812,707 795,707 802,708 806,708 787,708 806,708 829,708 798,708 818,708 913,708 824,708 787,708 806,708 916,708 799,708 842,708 799,708 819,708 796,708 792,708 828,708 785,708 820,708 803,708 800,708 829,708 798,708 820,708 840,708 830,708 858,708 825,708 796,708 804,708 804,708 810,708 787,708 788,708 802,708 828,708 807,708 842,708 844,708 788,708 783,708 831,708 796,708 795,708 825,708 806,708 834,708 796,708 841,708 854,708 823,708 800,709 781,709 826,709 779,709 819,709 783,709 790,709 837,709 793,709 818,709 791,709 815,709 753,709 780,709 785,709 780,709 826,709 820,709 817,709 780,709 782,709 882,709 808,709 812,709 841,709 778,709 794,709 734,709 821,709 782,709 834,709 780,709 803,709 845,709 782,709 786,709 817,709 795,709 782,709 803,709 799,709 794,709 834,709 790,709 825,709 838,709 800,709 844,709 788,709 822,709 784,710 811,710 783,710 788,710 791,710 806,710 784,710 825,710 801,710 839,710 831,710 772,710 813,710 822,710 819,710 799,710 847,710 791,710 819,710 823,710 861,710 804,710 781,710 790,710 778,710 853,710 816,710 820,710 816,710 834,710 832,710 801,710 837,710 797,710 781,710 829,710 773,710 784,710 797,710 773,710 816,711 814,711 890,711 811,711 776,711 790,711 804,711 811,711 841,711 782,711 821,711 885,711 875,711 827,711 795,711 777,711 822,711 800,711 786,711 826,711 819,711 801,711 824,711 818,711 792,711 809,711 832,711 809,711 803,711 811,711 787,711 826,711 861,711 859,711 815,711 828,711 832,711 790,711 804,711 845,711 856,711 797,711 829,711 770,711 798,711 904,711 766,711 814,712 810,712 816,712 794,712 787,712 781,712 805,712 835,712 827,712 838,712 805,712 822,712 852,712 796,712 824,712 807,712 905,712 811,712 853,712 813,712 819,712 809,712 822,712 806,712 828,712 800,712 846,712 795,712 860,712 813,712 826,712 775,712 842,712 811,712 811,712 799,712 786,712 802,712 816,712 798,712 860,712 824,712 809,712 814,712 820,712 794,712 817,712 822,712 824,712 786,712 791,712 834,712 782,712 816,712 808,712 825,713 844,713 791,713 795,713 781,713 811,713 794,713 802,713 797,713 802,713 839,713 817,713 785,713 781,713 789,713 817,713 782,713 795,713 814,713 819,713 804,713 894,713 808,713 783,713 776,713 825,713 777,713 818,713 777,713 830,713 785,713 831,713 806,713 803,713 895,713 826,713 841,713 790,713 797,713 782,713 821,714 833,714 834,714 796,714 776,714 811,714 816,714 838,714 835,714 826,714 814,714 813,714 824,714 789,714 773,714 796,714 834,714 804,714 910,714 773,714 852,714 850,714 785,714 822,714 795,714 766,714 901,714 809,714 812,714 822,714 834,714 816,714 786,714 797,714 785,714 878,714 801,714 828,714 793,714 825,714 797,714 815,714 783,714 837,715 830,715 805,715 828,715 821,715 814,715 832,715 906,715 825,715 801,715 808,715 814,715 780,715 821,715 782,715 773,715 803,715 819,715 829,715 787,715 785,715 797,715 818,715 774,715 828,715 903,715 804,715 808,715 858,715 796,715 793,715 885,715 809,715 779,715 796,715 810,715 772,715 798,715 794,715 822,715 813,715 826,715 804,715 837,715 840,715 793,715 794,715 816,715 826,715 781,715 894,715 783,715 869,715 832,715 801,715 864,715 851,715 823,715 842,715 868,715 777,715 836,715 787,716 807,716 777,716 919,716 813,716 794,716 831,716 805,716 794,716 799,716 804,716 800,716 786,716 825,716 815,716 789,716 774,716 819,716 791,716 780,716 790,716 826,716 790,716 771,716 790,716 840,716 790,716 824,716 819,716 827,716 796,716 811,716 826,716 812,716 795,716 791,716 819,716 807,716 833,716 791,716 786,716 868,716 814,716 783,716 855,716 819,716 828,716 789,716 833,716 802,716 785,716 851,716 806,716 831,716 780,716 781,717 808,717 795,717 827,717 817,717 829,717 808,717 764,717 825,717 812,717 882,717 806,717 798,717 853,717 810,717 804,717 815,717 834,717 792,717 782,717 876,717 879,717 823,717 805,717 803,717 795,717 876,717 770,717 829,717 779,717 781,717 810,717 824,717 825,717 820,717 770,717 791,717 892,717 783,717 778,717 808,717 785,717 809,717 825,717 782,717 838,717 790,717 826,717 808,717 785,717 837,717 770,717 828,717 810,717 785,717 810,717 881,718 778,718 806,718 821,718 787,718 821,718 780,718 815,718 819,718 832,718 789,718 868,718 821,718 834,718 783,718 775,718 809,718 829,718 787,718 825,718 805,718 754,718 836,718 842,718 797,718 865,718 836,718 841,718 831,718 811,718 820,718 816,718 820,718 830,718 846,718 826,718 876,718 835,718 819,718 814,718 795,718 846,718 821,718 817,718 813,718 812,718 853,718 782,718 795,718 786,719 826,719 797,719 801,719 849,719 817,719 776,719 851,719 788,719 830,719 777,719 774,719 783,719 818,719 823,719 776,719 787,719 819,719 822,719 864,719 773,719 779,719 789,719 812,719 818,719 799,719 793,719 809,719 795,719 809,719 892,719 795,719 801,719 791,719 847,719 825,719 840,719 839,719 813,719 813,719 821,719 774,719 782,719 783,719 795,719 778,719 833,719 830,719 811,719 785,719 791,719 855,719 829,719 804,719 788,719 839,719 797,719 818,719 813,719 784,719 829,719 785,719 809,719 919,719 823,719 807,719 783,719 787,719 865,719 829,719 829,719 824,719 825,719 824,719 782,719 811,719 863,719 842,719 782,719 835,719 807,719 799,719 838,720 817,720 820,720 921,720 792,720 875,720 869,720 795,720 837,720 854,720 830,720 839,720 800,720 848,720 826,720 822,720 777,720 767,720 864,720 897,720 789,720 775,720 772,720 806,720 803,720 785,720 778,720 795,720 837,720 780,720 800,720 783,720 778,720 823,720 789,720 784,720 771,720 804,720 865,720 825,720 844,720 788,720 823,720 790,720 792,720 826,720 780,720 782,720 886,720 783,720 797,720 818,720 774,720 842,720 785,721 840,721 796,721 806,721 827,721 817,721 821,721 854,721 777,721 829,721 841,721 837,721 777,721 785,721 810,721 858,721 824,721 747,721 805,721 795,721 781,721 826,721 782,721 824,721 828,721 821,721 796,721 830,721 820,721 829,721 831,721 793,721 830,721 773,721 809,721 827,721 810,721 820,721 807,721 782,721 845,721 779,721 813,721 889,721 809,721 787,721 775,721 809,721 815,721 798,721 830,721 826,721 816,721 832,721 826,721 785,721 791,721 809,721 923,721 830,721 833,721 784,721 789,721 884,721 825,721 818,721 890,721 814,721 812,721 807,721 845,721 787,721 813,721 776,721 807,722 779,722 819,722 779,722 824,722 838,722 808,722 821,722 827,722 799,722 777,722 775,722 813,722 791,722 819,722 846,722 826,722 825,722 800,722 809,722 846,722 797,722 791,722 819,722 784,722 818,722 782,722 785,722 806,722 833,722 785,722 829,722 810,722 786,722 845,722 777,722 801,722 789,722 864,722 824,722 773,722 876,722 806,722 811,722 805,722 808,722 794,722 776,722 794,722 795,722 805,723 806,723 809,723 779,723 794,723 816,723 784,723 795,723 830,723 798,723 831,723 814,723 788,723 811,723 810,723 819,723 789,723 813,723 796,723 792,723 828,723 837,723 785,723 837,723 790,723 820,723 835,723 835,723 837,723 798,723 781,723 804,723 792,723 791,723 796,723 813,723 815,723 845,723 763,723 810,723 820,723 815,723 776,723 809,723 794,723 788,723 816,723 777,723 796,723 796,723 925,723 809,723 823,723 832,723 839,723 784,723 818,724 830,724 830,724 835,724 801,724 796,724 781,724 811,724 806,724 798,724 849,724 866,724 807,724 787,724 816,724 799,724 874,724 790,724 772,724 880,724 838,724 819,724 794,724 796,724 817,724 797,724 802,724 822,724 905,724 809,724 783,724 779,724 778,724 834,724 784,724 781,724 782,724 877,724 826,724 823,724 812,724 782,724 830,724 801,724 806,724 801,724 832,724 814,724 798,724 826,724 828,724 809,724 827,724 816,724 820,724 787,724 891,724 799,724 789,725 838,725 773,725 796,725 785,725 805,725 804,725 785,725 836,725 794,725 807,725 838,725 839,725 773,725 832,725 798,725 796,725 816,725 857,725 827,725 806,725 809,725 811,725 811,725 801,725 787,725 794,725 789,725 834,725 814,725 776,725 816,725 797,725 780,725 902,725 811,725 834,725 803,725 819,725 784,725 842,725 836,725 796,725 808,725 837,725 808,725 823,725 773,725 783,725 818,725 832,725 832,725 784,725 814,725 792,725 817,725 794,725 811,725 804,725 781,725 787,725 810,725 809,725 833,725 851,725 842,725 827,725 804,725 837,725 906,725 785,725 781,725 780,725 862,726 795,726 821,726 801,726 828,726 784,726 817,726 810,726 829,726 832,726 801,726 794,726 806,726 831,726 781,726 850,726 781,726 830,726 830,726 822,726 814,726 821,726 807,726 812,726 804,726 829,726 821,726 782,726 886,726 815,726 811,726 766,726 826,726 836,726 811,726 818,726 781,726 802,726 774,726 819,726 838,726 790,726 786,726 842,726 800,726 797,726 796,726 810,726 799,726 818,726 822,726 779,726 838,726 759,726 800,726 815,726 844,726 809,726 830,726 806,726 784,726 801,726 806,726 826,726 858,726 796,726 801,726 816,726 789,726 768,726 795,726 784,726 811,726 795,727 817,727 820,727 800,727 824,727 851,727 775,727 802,727 810,727 820,727 834,727 781,727 833,727 869,727 806,727 814,727 808,727 777,727 774,727 828,727 824,727 790,727 770,727 852,727 827,727 809,727 884,727 798,727 810,727 870,727 801,727 795,727 770,727 820,727 889,727 792,727 812,727 827,727 815,727 816,727 826,727 816,727 823,727 815,727 774,727 824,727 802,727 774,727 834,727 797,727 791,727 803,727 822,727 827,727 780,727 808,727 772,727 812,727 815,727 815,727 828,727 901,727 825,727 779,727 812,727 881,727 858,727 788,727 877,727 828,727 812,727 820,727 758,728 802,728 830,728 816,728 808,728 877,728 758,728 781,728 789,728 796,728 789,728 830,728 837,728 792,728 824,728 807,728 776,728 823,728 837,728 808,728 835,728 738,728 806,728 797,728 808,728 790,728 790,728 821,728 809,728 900,728 834,728 795,728 735,728 810,728 829,728 839,728 830,728 790,728 813,728 784,728 814,728 823,728 815,728 774,728 810,728 814,728 890,728 792,728 807,728 848,728 819,728 802,728 818,728 790,728 808,728 798,728 819,728 801,728 821,728 776,728 868,728 827,728 824,728 814,728 831,728 792,728 841,728 830,728 839,728 799,729 796,729 792,729 825,729 837,729 815,729 814,729 855,729 816,729 818,729 800,729 824,729 801,729 792,729 811,729 808,729 840,729 784,729 826,729 784,729 805,729 795,729 796,729 801,729 775,729 807,729 828,729 821,729 794,729 816,729 835,729 820,729 811,729 854,729 782,729 784,729 862,729 796,729 805,729 826,729 788,729 808,729 826,729 820,729 821,729 840,729 782,729 822,729 804,729 798,729 904,729 786,729 797,729 790,729 786,729 832,729 880,729 807,729 779,729 815,729 800,729 800,729 781,729 832,729 773,729 829,729 811,729 822,729 799,729 826,729 807,729 829,729 801,729 860,729 858,729 828,729 807,729 804,729 823,729 813,729 839,729 828,729 805,729 809,729 825,729 812,729 865,729 797,729 784,729 819,729 824,729 808,729 783,729 823,729 818,729 799,729 819,729 882,729 781,729 810,730 870,730 814,730 814,730 898,730 809,730 814,730 839,730 792,730 804,730 810,730 787,730 779,730 767,730 793,730 825,730 778,730 793,730 787,730 821,730 801,730 808,730 825,730 870,730 801,730 789,730 826,730 772,730 797,730 812,730 796,730 828,730 771,730 802,730 826,730 825,730 809,730 781,730 805,730 796,730 790,730 795,730 777,730 788,730 767,730 908,730 796,730 835,730 819,730 824,730 801,730 794,730 821,730 802,730 769,730 828,730 778,730 819,730 774,730 801,730 779,730 800,730 796,730 787,730 809,730 840,730 829,730 806,730 790,730 824,730 794,730 821,730 801,730 839,730 796,730 811,730 805,730 779,730 825,730 800,730 819,730 810,730 771,730 822,730 825,730 834,730 824,730 793,730 824,730 827,730 843,730 814,730 806,730 811,730 877,730 810,731 818,731 808,731 842,731 817,731 817,731 843,731 795,731 776,731 779,731 831,731 863,731 775,731 817,731 811,731 849,731 777,731 813,731 796,731 819,731 852,731 784,731 782,731 829,731 783,731 834,731 828,731 795,731 799,731 817,731 773,731 829,731 791,731 793,731 863,731 814,731 804,731 819,731 806,731 784,731 844,731 814,731 887,731 897,731 791,731 794,731 819,731 799,731 810,731 792,731 815,731 806,731 790,731 798,731 834,731 854,731 822,731 828,731 814,731 818,731 787,731 827,731 803,731 800,731 878,731 816,731 816,731 838,731 828,731 799,731 751,731 820,731 766,731 832,731 804,731 825,731 819,731 780,731 776,731 859,731 816,731 821,731 842,731 783,731 805,731 814,732 836,732 819,732 821,732 806,732 791,732 837,732 818,732 784,732 822,732 774,732 812,732 775,732 829,732 807,732 808,732 791,732 796,732 797,732 799,732 823,732 824,732 836,732 788,732 790,732 821,732 811,732 783,732 816,732 792,732 789,732 832,732 855,732 791,732 796,732 776,732 778,732 823,732 821,732 787,732 800,732 822,732 798,732 790,732 798,732 857,732 852,732 800,732 837,732 819,732 815,732 855,732 823,732 832,732 818,732 902,732 825,732 804,732 788,732 815,732 832,732 821,732 781,732 874,732 807,732 869,732 860,732 786,732 815,732 826,732 811,732 820,732 793,732 806,732 833,732 795,732 824,732 761,732 798,732 827,732 795,732 824,732 833,732 808,732 827,732 790,732 781,732 795,732 812,732 821,732 803,732 813,732 779,732 840,732 798,732 823,732 800,732 785,733 796,733 793,733 826,733 828,733 814,733 800,733 816,733 804,733 780,733 776,733 764,733 813,733 817,733 822,733 830,733 806,733 817,733 814,733 842,733 813,733 822,733 799,733 798,733 811,733 809,733 822,733 789,733 811,733 813,733 822,733 791,733 812,733 793,733 818,733 783,733 758,733 824,733 806,733 807,733 782,733 788,733 796,733 791,733 871,733 815,733 803,733 809,733 774,733 824,733 790,733 801,733 827,733 794,733 783,733 817,733 802,733 786,733 793,733 791,733 772,733 787,733 802,733 795,733 796,733 817,733 800,733 797,733 835,733 821,733 782,733 801,733 800,733 789,733 827,733 861,733 811,733 835,733 793,733 815,733 825,733 739,733 785,733 832,733 757,733 793,734 790,734 822,734 773,734 812,734 801,734 824,734 835,734 781,734 781,734 773,734 826,734 837,734 825,734 809,734 832,734 814,734 793,734 812,734 792,734 808,734 788,734 804,734 798,734 817,734 803,734 827,734 819,734 803,734 832,734 798,734 823,734 788,734 818,734 829,734 792,734 815,734 821,734 803,734 825,734 835,734 835,734 802,734 788,734 840,734 802,734 814,734 787,734 831,734 821,734 782,734 807,734 836,734 862,734 813,734 799,734 809,734 789,734 800,734 825,734 812,734 768,734 793,734 797,734 824,734 807,734 828,734 779,734 774,734 812,734 827,734 786,734 838,734 794,734 795,734 837,734 799,734 815,734 772,734 827,734 797,734 816,734 805,734 837,734 831,734 813,734 791,734 829,734 791,735 808,735 795,735 831,735 831,735 791,735 840,735 810,735 826,735 824,735 818,735 800,735 809,735 819,735 785,735 826,735 844,735 835,735 869,735 822,735 817,735 817,735 808,735 738,735 832,735 802,735 783,735 819,735 790,735 879,735 822,735 822,735 832,735 781,735 825,735 811,735 820,735 814,735 833,735 801,735 802,735 781,735 801,735 796,735 875,735 816,735 792,735 782,735 825,735 822,735 786,735 787,735 804,735 749,735 808,735 825,735 794,735 786,735 786,735 823,735 831,735 825,735 774,735 783,735 813,735 833,735 802,735 803,735 784,735 808,735 836,735 780,735 786,735 812,735 820,735 808,735 815,735 812,735 789,735 816,735 808,735 813,735 806,735 827,735 824,736 814,736 828,736 819,736 800,736 800,736 815,736 814,736 819,736 751,736 790,736 794,736 811,736 818,736 788,736 812,736 821,736 812,736 799,736 792,736 802,736 781,736 831,736 817,736 806,736 794,736 814,736 810,736 813,736 756,736 816,736 829,736 777,736 821,736 840,736 831,736 806,736 798,736 799,736 781,736 822,736 810,736 824,736 819,736 773,736 802,736 813,736 819,736 826,736 803,736 836,736 946,736 837,736 824,736 751,736 802,736 796,736 810,736 821,736 781,736 825,736 831,736 786,736 801,736 806,736 822,736 864,736 829,736 809,736 781,736 799,736 817,736 815,736 809,736 833,736 819,736 818,736 803,736 813,736 806,736 806,736 784,736 809,737 812,737 779,737 809,737 815,737 833,737 765,737 812,737 830,737 868,737 779,737 886,737 801,737 832,737 783,737 786,737 770,737 796,737 812,737 852,737 793,737 811,737 791,737 870,737 827,737 806,737 805,737 834,737 790,737 808,737 815,737 811,737 784,737 792,737 816,737 817,737 811,737 865,737 777,737 816,737 789,737 816,737 802,737 830,737 797,737 785,737 783,737 797,737 826,737 803,737 787,737 791,737 799,737 795,737 782,737 788,737 820,737 784,737 775,737 787,737 834,737 782,737 822,737 788,737 834,737 789,737 833,737 799,737 841,737 777,737 752,737 820,737 839,737 786,737 808,737 856,737 832,737 829,737 791,737 783,737 836,737 818,737 870,737 808,738 838,738 814,738 875,738 855,738 789,738 810,738 823,738 810,738 829,738 789,738 788,738 784,738 882,738 778,738 812,738 788,738 794,738 824,738 779,738 821,738 806,738 795,738 792,738 769,738 895,738 771,738 810,738 818,738 838,738 774,738 739,738 821,738 795,738 835,738 824,738 808,738 872,738 791,738 803,738 807,738 829,738 871,738 771,738 786,738 792,738 839,738 796,738 816,738 819,738 768,738 822,738 794,738 788,738 813,738 796,738 838,738 792,738 782,738 835,738 841,738 789,738 800,738 794,738 782,738 790,738 823,738 805,738 786,738 862,738 791,738 802,738 824,738 832,738 823,738 826,739 790,739 795,739 796,739 778,739 834,739 779,739 790,739 892,739 843,739 794,739 782,739 779,739 884,739 824,739 768,739 777,739 824,739 788,739 783,739 819,739 834,739 829,739 789,739 794,739 795,739 810,739 829,739 802,739 836,739 797,739 832,739 817,739 789,739 798,739 819,739 789,739 825,739 791,739 792,739 832,739 791,739 865,739 818,739 836,739 832,739 789,739 831,739 780,739 797,739 832,739 794,739 822,739 823,739 825,739 793,739 781,739 821,739 831,739 828,739 788,739 790,739 832,739 847,739 791,739 784,739 830,739 831,739 828,739 781,739 788,739 789,739 796,739 780,740 827,740 779,740 776,740 789,740 784,740 780,740 828,740 796,740 788,740 833,740 784,740 781,740 868,740 789,740 777,740 833,740 791,740 788,740 832,740 787,740 887,740 784,740 829,740 785,740 835,740 789,740 784,740 757,740 781,740 778,740 796,740 786,740 795,740 828,740 793,740 835,740 834,740 795,740 768,740 827,740 789,740 834,740 777,740 864,740 785,740 794,740 859,740 908,741 794,741 788,741 785,741 845,741 828,741 839,741 776,741 839,741 837,741 853,741 777,741 783,741 828,741 786,741 830,741 788,741 780,741 827,741 779,741 765,741 781,741 834,741 857,741 848,741 776,741 779,741 791,741 778,741 834,741 870,741 826,741 828,741 782,741 786,741 841,741 828,741 790,741 829,741 828,741 832,741 835,741 774,742 789,742 768,742 840,742 850,742 704,742 773,742 851,742 753,742 778,742 777,742 780,742 779,742 827,742 770,742 774,742 846,742 835,742 834,742 780,742 779,742 887,742 776,742 857,742 841,742 829,742 787,742 771,742 847,742 763,742 834,742 828,742 759,742 778,742 773,742 771,742 845,742 835,743 835,743 768,743 869,743 769,743 787,743 845,743 827,743 837,743 784,743 832,743 880,743 784,743 842,743 784,743 835,743 783,743 896,743 775,743 769,743 831,743 839,743 829,743 773,743 767,743 737,743 835,743 842,743 869,743 779,743 829,743 779,743 937,743 749,743 760,743 772,743 832,743 775,743 784,743 829,744 775,744 836,744 775,744 848,744 834,744 771,744 777,744 782,744 833,744 831,744 876,744 780,744 774,744 780,744 835,744 776,744 851,744 833,744 776,744 846,744 835,744 902,744 830,744 766,744 831,744 771,744 834,744 835,744 753,744 893,744 773,744 837,744 773,744 833,744 779,744 832,745 770,745 777,745 778,745 849,745 769,745 777,745 737,745 775,745 849,745 767,745 830,745 778,745 841,745 771,745 870,745 909,745 772,745 836,745 778,745 834,745 777,746 833,746 770,746 852,746 832,746 770,746 843,746 774,746 781,746 777,746 863,746 769,746 833,746 894,746 834,746 843,746 775,746 771,746 766,746 771,746 843,746 833,746 760,746 771,746 837,746 835,746 779,746 740,746 840,746 840,746 835,746 773,746 775,746 780,746 834,747 763,747 875,747 833,747 770,747 834,747 768,747 858,747 863,747 833,747 775,747 849,747 874,747 753,747 724,747 840,747 770,747 832,747 832,748 771,748 778,748 831,748 771,748 839,748 836,748 836,748 772,748 776,748 776,748 886,748 864,748 846,748 832,748 864,748 831,748 776,748 776,748 768,748 769,748 844,748 776,748 847,748 853,749 839,749 771,749 833,749 776,749 828,749 839,749 833,749 832,749 839,749 776,749 774,749 773,749 844,749 767,749 835,749 895,749 860,749 842,749 867,749 830,749 837,749 835,749 832,749 766,749 843,749 840,749 840,749 835,749 855,750 774,750 848,750 831,750 848,750 767,750 889,750 833,750 832,750 769,750 774,750 831,750 868,750 836,750 771,750 830,750 860,750 838,750 765,750 759,750 882,751 774,751 765,751 771,751 768,751 864,751 766,751 756,751 845,751 848,751 774,751 851,751 835,751 763,751 886,751 750,751 837,751 713,751 834,751 835,751 866,751 831,751 846,751 859,752 868,752 901,752 836,752 830,752 864,752 840,752 748,752 890,752 847,752 770,752 770,752 838,752 776,752 770,752 770,752 772,752 840,752 895,752 738,752 836,752 871,752 747,752 841,752 917,753 769,753 833,753 846,753 833,753 830,753 766,753 768,753 844,753 773,753 769,753 772,753 775,753 845,753 838,753 836,753 837,753 774,753 836,754 895,754 758,754 876,754 843,754 835,754 772,754 896,754 769,754 772,754 836,754 833,754 772,754 835,754 836,754 775,754 775,754 775,754 769,754 775,754 840,754 833,754 838,754 854,755 691,755 840,755 839,755 837,755 831,755 760,755 772,755 848,755 768,755 870,755 761,755 775,755 834,755 865,755 768,755 833,755 766,755 833,755 767,755 747,755 833,755 849,755 764,755 841,755 771,755 847,755 837,755 770,755 834,755 854,756 773,756 839,756 768,756 766,756 767,756 832,756 851,756 836,756 831,756 838,756 830,756 774,756 835,756 849,756 768,756 831,756 769,757 835,757 761,757 765,757 635,757 767,757 838,757 837,757 764,757 764,757 765,757 774,757 837,757 838,757 848,757 751,757 771,757 936,757 760,757 753,757 838,757 743,757 853,758 771,758 839,758 752,758 853,758 769,758 865,758 844,758 909,758 851,758 834,758 773,758 846,758 757,758 911,758 832,758 831,758 841,758 759,759 835,759 771,759 773,759 764,759 836,759 837,759 840,759 768,759 838,759 832,759 771,759 849,759 755,759 834,759 851,759 842,759 836,759 763,759 835,759 832,759 768,759 855,760 882,760 768,760 769,760 738,760 837,760 748,760 764,760 863,760 762,760 833,760 840,760 836,760 768,760 832,760 852,760 772,760 840,760 831,761 756,761 916,761 836,761 770,761 766,761 769,761 769,761 838,761 764,761 839,761 765,761 846,761 758,761 772,761 890,761 770,761 842,761 841,761 834,761 844,761 836,761 837,761 831,761 875,761 828,761 877,761 730,761 762,761 757,761 860,761 766,761 772,762 757,762 877,762 771,762 754,762 758,762 766,762 761,762 767,762 764,762 756,762 829,762 769,762 838,762 766,762 856,762 753,762 746,762 753,762 862,763 829,763 758,763 830,763 765,763 840,763 835,763 769,763 835,763 765,763 768,763 770,763 830,763 832,763 929,763 829,763 848,763 765,763 859,763 831,763 867,763 842,763 764,763 751,763 830,763 834,763 749,763 763,763 829,763 769,764 831,764 891,764 854,764 761,764 768,764 833,764 832,764 846,764 833,764 769,764 759,764 835,764 831,764 751,764 758,764 833,764 831,764 835,764 829,765 761,765 767,765 830,765 829,765 754,765 833,765 840,765 767,765 761,765 764,765 857,765 842,765 858,765 720,765 837,765 753,765 837,765 764,765 857,765 832,765 765,765 867,765 763,765 834,765 835,766 830,766 860,766 842,766 829,766 846,766 830,766 868,766 724,766 829,766 766,766 829,766 762,766 768,766 836,766 860,766 766,766 931,766 851,766 755,766 840,766 761,766 832,766 833,766 759,766 769,766 762,766 829,766 880,766 880,766 769,766 838,766 763,767 836,767 761,767 850,767 846,767 840,767 766,767 832,767 840,767 831,767 762,767 829,767 839,767 833,767 833,767 834,767 758,767 740,767 762,767 768,767 748,767 844,768 836,768 832,768 752,768 870,768 830,768 758,768 840,768 832,768 760,768 762,768 832,768 835,768 768,768 839,768 832,768 835,768 758,768 835,769 764,769 765,769 832,769 759,769 837,769 765,769 767,769 836,769 858,769 760,769 862,769 835,769 844,769 759,769 762,769 839,769 829,769 832,769 831,769 831,769 753,770 841,770 767,770 831,770 766,770 760,770 751,770 764,770 842,770 750,770 842,770 762,770 842,770 834,770 839,770 738,770 831,770 764,770 762,770 756,770 768,770 753,770 765,770 761,770 836,771 726,771 753,771 760,771 831,771 835,771 762,771 828,771 836,771 759,771 768,771 768,771 754,771 760,771 862,771 763,771 753,771 868,771 835,771 766,771 839,771 832,771 755,772 859,772 752,772 767,772 828,772 841,772 746,772 828,772 768,772 750,772 829,772 851,772 768,772 859,772 829,772 753,772 765,773 836,773 833,773 872,773 764,773 747,773 829,773 760,773 755,773 761,773 834,773 831,773 762,773 834,773 764,773 688,773 849,773 832,773 829,773 764,773 767,773 877,773 763,773 765,774 834,774 764,774 759,774 828,774 767,774 750,774 765,774 837,774 830,774 766,774 761,774 828,774 834,774 758,774 762,774 763,774 835,774 828,774 742,774 831,774 840,774 838,774 759,774 830,774 755,774 830,774 857,774 761,774 750,774 761,774 761,775 765,775 765,775 830,775 764,775 832,775 765,775 729,775 834,775 738,775 834,775 826,775 830,775 765,775 829,775 760,775 762,775 762,775 839,775 761,775 764,775 766,775 829,775 834,775 842,775 836,775 831,775 764,776 898,776 754,776 880,776 760,776 858,776 847,776 900,776 841,776 834,776 829,776 759,776 765,776 761,776 840,776 837,776 834,776 750,776 828,776 765,776 759,776 830,776 742,777 756,777 834,777 763,777 751,777 831,777 760,777 738,777 761,777 761,777 831,777 828,777 882,777 833,777 746,777 762,777 833,777 761,777 764,778 761,778 731,778 737,778 660,778 828,778 828,778 762,778 761,778 830,778 847,778 751,778 830,778 839,778 861,778 760,778 835,778 766,778 757,778 831,778 760,778 837,778 763,778 765,779 835,779 872,779 756,779 761,779 831,779 757,779 830,779 766,779 754,779 703,779 743,779 745,779 762,779 829,779 762,779 749,779 764,779 763,779 837,780 758,780 760,780 892,780 870,780 750,780 752,780 838,780 753,780 759,780 756,780 833,780 733,780 762,780 756,780 757,780 757,780 829,780 752,780 761,780 829,780 862,780 759,780 833,780 745,780 877,780 748,780 832,780 756,781 746,781 837,781 760,781 831,781 836,781 832,781 844,781 755,781 837,781 828,781 828,781 845,781 834,781 733,781 862,781 764,781 761,781 753,781 832,781 837,781 755,781 854,781 750,781 828,781 835,782 839,782 836,782 739,782 763,782 755,782 831,782 759,782 832,782 855,782 848,782 754,782 834,782 828,782 721,782 865,783 748,783 764,783 833,783 838,783 757,783 754,783 763,783 758,783 842,783 833,783 763,783 762,783 828,783 745,783 752,784 759,784 754,784 840,784 864,784 842,784 844,784 759,784 760,784 878,784 845,784 859,784 754,784 828,784 755,784 849,784 836,784 759,784 752,784 749,784 757,784 831,784 759,784 840,784 744,784 832,784 832,785 744,785 755,785 757,785 756,785 762,785 754,785 876,785 839,785 833,785 830,785 838,785 760,785 835,785 851,785 750,785 868,785 835,785 755,785 827,785 831,785 832,785 761,785 755,785 841,785 827,785 830,785 891,785 744,785 759,785 838,786 838,786 752,786 756,786 762,786 755,786 747,786 753,786 732,786 760,786 832,786 688,786 753,786 755,786 832,786 888,786 755,786 742,786 738,786 864,786 834,786 859,786 761,786 761,786 745,786 831,786 850,786 750,787 830,787 829,787 837,787 713,787 834,787 762,787 754,787 750,787 758,787 828,787 737,787 848,787 752,787 838,787 759,787 754,787 933,787 750,787 757,787 758,787 750,787 833,787 757,787 838,787 743,788 839,788 829,788 829,788 753,788 832,788 738,788 849,788 751,788 832,788 759,788 757,788 756,788 761,788 828,788 749,788 857,788 842,788 829,788 831,788 828,788 720,789 756,789 829,789 750,789 845,789 830,789 750,789 762,789 829,789 755,789 757,789 834,789 745,789 755,789 837,789 756,789 835,789 753,789 750,789 756,789 756,789 863,789 758,789 759,789 835,789 832,789 757,790 760,790 839,790 751,790 842,790 828,790 754,790 754,790 831,790 833,790 834,790 736,790 835,790 834,790 752,790 741,790 714,790 750,790 744,790 752,790 752,790 835,790 760,790 829,790 756,790 835,790 757,790 836,790 748,791 829,791 754,791 751,791 744,791 759,791 832,791 756,791 752,791 878,791 831,791 841,791 842,791 743,791 758,791 831,791 834,791 829,791 839,791 760,791 752,791 832,791 840,791 832,791 837,791 848,791 844,791 747,791 857,791 832,791 835,792 755,792 733,792 750,792 832,792 834,792 837,792 754,792 745,792 832,792 737,792 756,792 832,792 834,792 754,792 828,792 844,792 833,792 832,792 757,792 752,792 836,792 741,792 833,792 753,792 829,792 842,792 830,793 755,793 752,793 831,793 869,793 838,793 853,793 830,793 831,793 830,793 755,793 743,793 865,793 828,793 730,793 829,793 754,793 758,793 745,793 716,793 754,793 732,793 835,793 757,793 747,793 753,793 756,793 831,794 757,794 721,794 837,794 830,794 753,794 829,794 836,794 876,794 833,794 839,794 832,794 748,794 731,794 755,794 837,794 725,794 752,794 839,794 832,794 745,794 756,794 831,795 734,795 838,795 750,795 846,795 739,795 831,795 836,795 738,795 843,795 846,795 758,795 720,795 835,795 757,795 834,795 747,795 827,795 756,795 830,795 746,795 741,795 864,795 874,795 750,796 843,796 834,796 859,796 836,796 831,796 756,796 753,796 831,796 830,796 833,796 755,796 756,796 837,796 746,796 828,796 833,796 751,796 844,796 752,796 829,796 827,797 828,797 757,797 757,797 750,797 830,797 840,797 831,797 870,797 832,797 756,797 749,797 748,797 846,797 830,797 746,797 830,797 753,797 873,797 742,797 757,797 837,797 747,797 748,798 830,798 753,798 830,798 753,798 748,798 834,798 836,798 833,798 828,798 751,798 751,798 750,798 744,798 836,798 834,798 748,798 838,798 830,798 754,798 752,798 844,798 750,798 843,798 752,798 834,798 836,798 848,798 729,798 748,799 836,799 747,799 739,799 834,799 832,799 831,799 834,799 748,799 830,799 828,799 833,799 835,799 828,799 831,799 840,799 748,799 831,799 748,799 831,799 754,799 753,799 830,800 742,800 858,800 845,800 740,800 834,800 747,800 847,800 834,800 832,800 741,800 829,800 832,800 749,800 756,800 743,801 830,801 830,801 845,801 747,801 827,801 829,801 833,801 885,801 746,801 859,801 746,801 869,801 750,801 751,801 832,801 749,801 732,801 753,801 753,801 753,801 749,802 832,802 830,802 839,802 842,802 843,802 748,802 747,802 833,802 856,802 842,802 837,802 742,802 755,802 753,802 742,802 828,802 746,802 838,802 837,802 846,803 752,803 830,803 751,803 754,803 843,803 755,803 753,803 831,803 711,803 752,803 743,803 828,803 738,803 836,804 739,804 739,804 835,804 746,804 838,804 833,804 746,804 749,804 748,804 841,804 835,804 748,804 835,804 752,804 841,804 833,804 746,804 831,804 738,804 829,804 753,804 864,804 719,804 831,805 842,805 747,805 829,805 828,805 737,805 744,805 837,805 728,805 750,805 729,805 831,805 841,805 752,805 833,805 752,805 740,805 720,805 739,805 842,806 738,806 726,806 729,806 858,806 843,806 748,806 833,806 833,806 830,806 834,806 735,806 726,806 751,806 746,806 871,806 752,806 749,806 832,806 831,806 726,806 834,806 885,806 738,806 838,807 697,807 866,807 835,807 751,807 745,807 730,807 839,807 830,807 835,807 750,807 749,807 835,807 749,807 832,807 829,807 754,807 749,807 836,808 734,808 831,808 835,808 746,808 748,808 835,808 743,808 742,808 749,808 839,808 833,808 829,808 750,808 741,808 835,808 706,808 835,808 748,808 834,808 838,808 746,808 841,808 838,809 844,809 832,809 747,809 861,809 829,809 712,809 833,809 745,809 744,809 834,809 843,809 832,809 830,809 830,809 752,809 832,809 729,809 746,809 829,809 846,809 831,810 746,810 703,810 829,810 831,810 746,810 722,810 837,810 844,810 711,810 727,810 848,810 740,810 742,810 744,810 836,810 842,810 838,810 742,810 751,810 737,810 750,810 742,810 829,810 745,810 749,811 747,811 746,811 833,811 738,811 751,811 829,811 849,811 842,811 830,811 832,811 727,811 746,811 835,811 833,811 834,811 716,811 838,811 749,811 742,811 834,811 746,811 726,811 714,811 733,811 747,811 751,811 737,811 834,811 740,812 730,812 834,812 832,812 837,812 745,812 832,812 832,812 741,812 855,812 746,812 835,812 847,812 724,812 876,812 832,812 830,812 738,812 834,812 744,812 695,812 837,812 746,812 743,813 835,813 828,813 747,813 829,813 840,813 837,813 738,813 832,813 839,813 749,813 829,813 731,813 743,813 744,813 747,813 835,813 839,813 744,813 838,813 833,813 743,813 735,814 744,814 829,814 833,814 839,814 740,814 833,814 741,814 836,814 830,814 833,814 868,814 740,814 748,814 830,814 746,814 747,814 863,814 746,814 833,814 749,814 742,814 830,814 727,814 738,814 748,815 747,815 832,815 745,815 737,815 829,815 833,815 830,815 832,815 744,815 744,815 751,815 740,815 733,815 731,815 748,815 851,815 730,815 837,815 717,815 743,816 734,816 740,816 747,816 857,816 851,816 831,816 749,816 736,816 831,816 748,816 831,816 730,816 734,816 841,816 836,816 835,816 726,816 750,816 746,816 838,816 834,817 830,817 730,817 832,817 751,817 737,817 731,817 829,817 864,817 745,817 749,817 836,817 828,817 829,817 730,817 731,817 751,817 740,817 737,817 836,817 834,817 832,817 741,817 747,818 860,818 847,818 714,818 833,818 745,818 835,818 746,818 726,818 830,818 828,818 835,818 837,818 747,818 831,818 725,818 831,818 744,818 745,818 831,818 829,818 748,819 837,819 833,819 831,819 747,819 856,819 831,819 743,819 750,819 829,819 748,819 738,819 844,819 839,819 849,819 828,819 886,819 833,819 831,819 835,819 830,819 838,820 748,820 745,820 836,820 863,820 749,820 677,820 853,820 744,820 835,820 840,820 745,820 744,820 834,820 748,820 836,820 845,820 839,820 744,820 744,821 680,821 845,821 835,821 743,821 748,821 838,821 840,821 744,821 747,821 746,821 831,821 739,821 746,821 749,821 851,821 726,821 738,821 716,821 832,821 835,821 750,821 744,821 747,821 871,821 665,821 832,821 708,822 839,822 731,822 732,822 837,822 839,822 742,822 745,822 829,822 745,822 750,822 689,822 833,822 830,822 834,822 741,822 743,822 836,822 742,822 734,822 835,822 833,823 748,823 742,823 747,823 681,823 744,823 832,823 747,823 835,823 744,823 837,823 830,823 746,823 745,823 828,823 743,823 733,823 694,823 748,823 830,824 740,824 742,824 690,824 746,824 745,824 831,824 696,824 739,824 741,824 741,824 833,824 832,824 745,824 743,824 835,824 714,824 749,824 881,824 747,824 840,824 838,825 651,825 720,825 836,825 828,825 725,825 735,825 854,825 839,825 743,825 734,825 747,825 840,825 729,825 737,825 750,825 828,825 749,825 744,825 749,825 835,825 872,825 747,825 742,825 830,825 743,825 697,825 740,825 833,825 740,826 835,826 747,826 731,826 831,826 748,826 873,826 841,826 749,826 837,826 829,826 728,826 716,826 725,826 833,826 834,826 748,826 832,826 830,826 675,826 866,826 870,826 734,826 832,826 833,826 732,826 844,826 840,826 841,826 700,827 703,827 747,827 886,827 832,827 739,827 835,827 748,827 743,827 831,827 749,827 680,827 749,827 740,827 694,827 834,827 726,827 734,827 737,827 737,827 716,827 742,827 743,827 837,827 843,827 740,828 833,828 835,828 732,828 835,828 836,828 746,828 843,828 830,828 738,828 739,828 747,828 731,828 749,828 744,828 683,828 844,828 748,828 739,828 746,828 747,828 709,828 838,828 734,828 722,828 749,828 838,829 742,829 736,829 716,829 719,829 893,829 840,829 838,829 834,829 851,829 717,829 735,829 832,829 746,829 835,829 837,829 841,829 684,829 741,829 743,830 749,830 749,830 745,830 834,830 901,830 736,830 840,830 831,830 739,830 745,830 666,830 715,830 749,830 832,830 748,830 736,830 838,830 676,830 720,830 732,830 839,830 745,830 832,831 714,831 739,831 838,831 742,831 746,831 843,831 837,831 715,831 714,831 739,831 837,831 740,831 839,831 686,831 845,831 737,831 830,831 726,831 743,831 833,831 836,831 736,831 724,831 735,832 728,832 732,832 747,832 727,832 739,832 742,832 833,832 833,832 732,832 742,832 833,832 829,832 835,832 733,832 690,832 718,832 840,832 740,832 736,832 743,832 722,832 831,833 741,833 833,833 742,833 739,833 742,833 746,833 748,833 832,833 725,833 831,833 830,833 832,833 748,833 841,833 711,833 831,833 834,833 747,833 833,833 830,833 736,833 830,834 747,834 695,834 729,834 829,834 831,834 834,834 736,834 742,834 745,834 723,834 746,834 737,834 732,834 835,834 723,834 840,834 740,834 738,834 742,834 853,834 836,834 748,834 831,835 843,835 739,835 747,835 743,835 741,835 744,835 747,835 834,835 835,835 740,835 739,835 723,835 842,835 741,835 734,835 732,835 831,835 730,835 737,835 913,835 747,835 745,835 739,836 729,836 744,836 831,836 678,836 732,836 739,836 746,836 736,836 832,836 708,836 733,836 742,836 839,836 740,836 746,836 743,836 744,836 833,836 737,836 829,836 737,836 730,837 833,837 748,837 827,837 743,837 830,837 730,837 830,837 742,837 739,837 726,837 740,837 837,837 746,837 727,837 740,837 841,837 749,838 738,838 746,838 747,838 746,838 829,838 744,838 886,838 854,838 838,838 839,838 832,838 835,838 736,838 714,838 746,838 746,838 837,838 832,838 701,838 830,838 742,838 718,838 742,838 719,839 724,839 727,839 836,839 873,839 700,839 830,839 830,839 748,839 727,839 829,839 742,839 741,839 746,839 738,839 838,839 718,839 705,839 718,839 746,839 734,839 837,839 729,839 831,839 740,839 736,839 740,839 833,839 733,840 731,840 835,840 717,840 836,840 833,840 833,840 835,840 838,840 842,840 834,840 839,840 830,840 832,840 846,840 740,840 674,840 834,840 747,841 838,841 830,841 703,841 834,841 740,841 842,841 742,841 734,841 744,841 704,841 836,841 734,841 738,841 737,841 839,841 723,841 748,841 855,841 834,841 834,841 833,841 829,841 836,841 746,842 832,842 718,842 717,842 747,842 742,842 832,842 829,842 730,842 834,842 836,842 741,842 841,842 832,842 830,842 740,842 729,842 711,842 705,842 743,842 715,842 722,842 739,842 746,842 743,842 733,842 747,843 741,843 731,843 836,843 670,843 733,843 745,843 830,843 739,843 736,843 833,843 835,843 837,843 829,843 739,843 736,843 835,843 831,843 831,844 728,844 739,844 719,844 721,844 832,844 746,844 839,844 832,844 719,844 741,844 836,844 744,844 836,844 731,844 727,844 739,844 834,845 746,845 747,845 831,845 829,845 828,845 710,845 740,845 835,845 830,845 742,845 721,845 748,845 720,845 748,845 738,845 843,845 729,845 733,845 832,845 832,845 743,845 676,845 728,845 832,846 739,846 740,846 831,846 742,846 711,846 738,846 742,846 711,846 747,846 746,846 745,846 832,846 744,846 734,846 834,846 749,846 712,846 740,846 745,846 721,846 834,847 740,847 712,847 743,847 672,847 743,847 701,847 838,847 835,847 733,847 746,847 741,847 832,847 743,847 740,847 747,847 735,847 829,847 734,847 735,847 747,848 742,848 734,848 830,848 859,848 835,848 865,848 721,848 745,848 743,848 740,848 707,848 744,848 830,848 690,848 833,848 832,848 836,848 846,848 727,848 840,848 739,848 740,848 717,848 839,848 835,848 719,848 745,848 837,849 833,849 833,849 739,849 737,849 726,849 747,849 852,849 748,849 836,849 835,849 836,849 678,849 741,849 836,849 744,849 741,849 729,849 737,849 743,849 837,849 744,849 742,849 741,849 745,849 737,849 748,849 837,849 740,849 740,849 745,849 836,849 747,850 668,850 682,850 831,850 707,850 736,850 747,850 746,850 836,850 739,850 830,850 738,850 743,850 738,850 741,850 739,850 733,850 739,850 695,850 745,850 734,850 829,850 746,850 833,850 739,851 842,851 726,851 748,851 734,851 838,851 720,851 836,851 739,851 839,851 836,851 837,851 844,851 729,851 834,851 727,851 832,851 836,851 688,851 832,851 742,851 749,851 745,851 835,852 708,852 831,852 833,852 842,852 841,852 743,852 747,852 844,852 837,852 744,852 742,852 838,852 748,852 743,852 746,852 745,852 833,852 834,852 832,852 833,852 742,852 746,852 700,852 724,852 739,852 730,853 735,853 713,853 736,853 837,853 846,853 745,853 744,853 834,853 875,853 720,853 730,853 731,853 744,853 729,853 735,853 677,853 706,853 743,853 744,853 747,853 747,853 743,853 831,853 725,854 742,854 736,854 831,854 737,854 743,854 747,854 838,854 834,854 833,854 740,854 841,854 746,854 834,854 835,854 741,854 742,854 837,854 732,854 737,854 666,854 716,854 697,854 836,854 840,854 748,854 738,854 747,854 847,855 743,855 745,855 835,855 833,855 837,855 835,855 741,855 732,855 717,855 740,855 834,855 735,855 748,855 745,855 712,855 837,855 834,855 742,855 865,856 836,856 742,856 834,856 708,856 727,856 830,856 829,856 748,856 831,856 721,856 692,856 844,856 735,856 735,856 717,856 844,856 730,856 732,856 871,856 745,856 835,856 727,857 837,857 832,857 749,857 723,857 682,857 748,857 837,857 828,857 835,857 936,857 840,857 700,857 742,857 735,857 832,857 747,857 831,858 739,858 742,858 737,858 833,858 838,858 747,858 738,858 831,858 739,858 715,858 737,858 830,858 700,858 718,858 744,858 747,858 741,858 724,858 748,858 728,858 688,858 742,858 731,858 835,858 683,858 747,858 743,858 830,859 724,859 701,859 691,859 842,859 740,859 745,859 685,859 739,859 833,859 833,859 839,859 742,859 717,859 845,859 744,859 838,859 748,859 743,859 668,859 730,859 691,859 835,859 723,859 732,859 747,859 747,859 730,859 748,860 839,860 838,860 745,860 725,860 740,860 834,860 830,860 743,860 833,860 745,860 835,860 733,860 745,860 748,860 749,860 840,860 685,860 748,860 748,860 904,860 744,860 730,860 748,860 735,860 747,860 711,860 747,860 832,861 710,861 747,861 745,861 733,861 831,861 835,861 833,861 832,861 742,861 692,861 835,861 701,861 744,861 833,861 735,861 740,861 831,861 740,861 738,861 743,861 742,861 704,862 731,862 829,862 844,862 839,862 739,862 742,862 739,862 746,862 734,862 734,862 839,862 843,862 830,862 743,862 692,862 734,862 831,862 739,862 745,862 739,862 741,862 833,862 719,862 730,862 738,862 842,862 746,862 729,862 843,862 833,863 734,863 742,863 728,863 733,863 840,863 730,863 830,863 831,863 744,863 734,863 840,863 725,863 835,863 690,863 831,863 747,863 748,864 739,864 740,864 721,864 708,864 736,864 691,864 729,864 744,864 747,864 700,864 747,864 745,864 740,864 742,864 740,864 837,864 829,864 829,864 837,864 748,864 688,864 684,864 832,864 725,864 718,864 733,865 715,865 727,865 734,865 830,865 738,865 742,865 698,865 830,865 745,865 736,866 746,866 728,866 745,866 742,866 834,866 832,866 844,866 723,866 831,866 703,866 747,866 735,866 738,866 745,866 840,866 736,866 742,866 741,866 744,866 836,866 744,866 748,866 741,866 749,867 702,867 712,867 707,867 869,867 745,867 833,867 842,867 726,867 746,867 843,867 734,867 732,867 746,867 738,867 736,867 835,867 840,867 834,867 747,867 742,867 870,868 727,868 709,868 745,868 737,868 722,868 836,868 705,868 733,868 730,868 739,868 724,868 736,868 735,868 732,868 723,868 744,868 740,868 941,868 748,868 832,868 744,869 718,869 748,869 829,869 748,869 744,869 706,869 734,869 743,869 831,869 748,869 745,869 838,869 836,869 740,869 733,869 744,869 866,869 734,869 699,869 745,869 746,869 743,869 748,869 834,869 741,870 744,870 703,870 727,870 744,870 654,870 741,870 741,870 830,870 729,870 846,870 831,870 835,870 709,870 834,870 832,870 722,870 741,870 725,870 737,871 832,871 835,871 749,871 746,871 834,871 727,871 838,871 709,871 834,871 747,871 832,871 829,871 742,871 739,871 746,871 730,871 846,871 713,871 744,871 837,871 751,871 742,871 835,871 834,872 746,872 729,872 740,872 747,872 738,872 735,872 747,872 834,872 731,872 736,872 741,872 831,872 835,872 747,872 746,872 735,872 841,872 719,872 731,872 737,872 685,872 836,872 834,872 745,872 743,872 736,872 742,872 831,872 739,872 718,872 738,873 739,873 741,873 750,873 697,873 709,873 746,873 701,873 829,873 743,873 687,873 685,873 729,873 840,873 836,873 834,873 743,873 749,873 742,873 738,873 730,874 833,874 734,874 730,874 855,874 836,874 834,874 737,874 741,874 834,874 735,874 742,874 829,874 834,874 831,874 691,874 748,874 723,874 735,874 727,874 741,875 829,875 736,875 730,875 833,875 837,875 741,875 837,875 833,875 720,875 734,875 711,875 839,875 835,875 723,875 748,875 835,875 728,875 748,875 836,875 664,875 745,876 834,876 740,876 838,876 715,876 737,876 737,876 748,876 895,876 721,876 829,876 741,876 834,876 741,876 748,876 836,876 746,876 737,876 830,876 829,877 727,877 727,877 833,877 749,877 736,877 735,877 747,877 836,877 744,877 836,877 702,877 742,877 743,877 749,877 741,877 745,877 722,877 747,877 839,877 909,877 834,877 644,877 835,877 743,877 749,877 832,877 750,878 746,878 744,878 834,878 840,878 729,878 743,878 833,878 704,878 833,878 735,878 743,878 832,878 717,878 749,878 706,878 741,878 671,878 732,878 837,879 745,879 740,879 831,879 696,879 833,879 729,879 844,879 739,879 846,879 744,879 830,879 746,879 833,879 707,879 699,879 741,879 731,879 834,879 725,879 741,879 735,879 722,879 833,879 715,879 831,879 747,880 746,880 829,880 727,880 716,880 745,880 743,880 828,880 745,880 714,880 745,880 733,880 730,880 744,880 832,880 740,880 747,880 727,880 828,880 732,880 737,880 734,881 713,881 743,881 739,881 694,881 835,881 733,881 701,881 745,881 739,881 741,881 739,881 744,881 831,881 745,881 740,881 729,881 835,881 713,882 739,882 729,882 722,882 737,882 749,882 734,882 744,882 722,882 833,882 728,882 833,882 742,882 746,882 831,882 835,882 725,882 726,882 745,882 746,882 748,883 741,883 831,883 742,883 838,883 831,883 834,883 744,883 746,883 840,883 839,883 831,883 750,883 738,883 833,883 744,883 748,883 747,883 724,883 723,883 745,883 831,883 834,883 730,883 738,883 731,883 729,883 746,883 735,883 833,884 723,884 713,884 832,884 748,884 746,884 837,884 833,884 750,884 723,884 844,884 745,884 750,884 739,884 837,884 685,884 661,884 831,884 836,884 748,884 743,884 836,884 742,884 743,884 857,884 668,884 835,884 739,884 837,884 832,885 691,885 843,885 746,885 735,885 732,885 702,885 832,885 731,885 743,885 742,885 747,885 829,885 708,885 710,885 831,885 708,885 831,885 743,885 732,885 723,885 750,885 837,886 745,886 697,886 748,886 713,886 746,886 745,886 735,886 749,886 749,886 741,886 741,886 835,886 737,886 740,886 749,886 830,886 745,886 706,886 705,886 831,886 836,886 632,886 750,886 739,886 730,886 663,886 747,886 742,887 830,887 740,887 716,887 832,887 734,887 750,887 738,887 743,887 695,887 828,887 829,887 730,887 730,887 731,887 735,887 830,887 752,887 745,887 831,887 742,887 837,887 834,887 734,887 737,887 830,887 739,887 834,887 748,887 732,887 727,888 836,888 746,888 749,888 741,888 746,888 833,888 744,888 830,888 733,888 743,888 831,888 828,888 833,888 750,888 831,888 744,888 715,888 744,888 750,888 745,888 827,888 828,888 717,888 732,889 749,889 749,889 744,889 829,889 837,889 747,889 739,889 746,889 833,889 690,889 842,889 745,889 728,889 749,889 835,889 744,889 713,889 739,889 835,889 700,889 743,889 677,889 716,889 749,889 747,889 740,889 834,890 719,890 712,890 709,890 744,890 750,890 745,890 741,890 736,890 728,890 738,890 711,890 834,890 745,890 831,890 834,890 748,890 836,890 840,890 703,890 735,890 719,890 839,890 747,890 747,890 834,890 828,891 832,891 689,891 835,891 835,891 748,891 742,891 734,891 750,891 749,891 727,891 831,891 837,891 747,891 838,891 845,891 833,891 750,891 844,891 745,891 728,891 702,891 751,891 739,892 751,892 740,892 840,892 736,892 736,892 831,892 750,892 719,892 748,892 745,892 740,892 736,892 709,892 686,892 830,892 750,892 732,892 829,892 838,892 706,892 833,892 744,892 751,893 746,893 837,893 714,893 708,893 836,893 744,893 717,893 714,893 751,893 736,893 736,893 728,893 725,893 745,893 836,893 834,893 830,893 834,893 747,893 750,893 914,893 751,893 886,893 844,894 692,894 837,894 687,894 829,894 838,894 736,894 734,894 840,894 695,894 721,894 749,894 751,894 832,894 739,894 698,894 745,894 750,894 727,894 744,894 834,894 707,894 749,894 727,895 830,895 746,895 840,895 835,895 751,895 744,895 737,895 835,895 832,895 833,895 726,895 711,895 738,895 749,895 718,895 832,895 738,895 839,895 828,895 737,895 742,895 734,895 745,895 728,895 835,895 733,895 827,895 833,896 734,896 911,896 724,896 730,896 857,896 721,896 838,896 734,896 833,896 840,896 727,896 741,896 841,896 833,896 738,896 681,896 830,896 692,896 746,896 742,896 726,896 833,896 750,897 712,897 739,897 724,897 835,897 734,897 746,897 740,897 741,897 837,897 836,897 839,897 751,897 737,897 740,897 842,897 753,897 733,897 713,897 749,897 841,897 753,897 750,897 752,897 735,898 740,898 840,898 830,898 840,898 828,898 745,898 830,898 828,898 749,898 697,898 687,898 829,898 749,898 842,898 749,898 748,898 827,898 835,898 745,898 744,898 753,898 741,899 753,899 745,899 694,899 746,899 749,899 838,899 746,899 751,899 832,899 845,899 753,899 735,899 745,899 711,899 830,899 829,899 839,899 827,899 752,899 744,899 833,899 710,899 753,899 834,899 751,899 737,899 709,899 738,899 743,900 827,900 744,900 738,900 709,900 742,900 747,900 746,900 723,900 827,900 752,900 832,900 660,900 677,900 753,900 744,900 730,900 754,900 721,900 753,901 733,901 828,901 728,901 705,901 736,901 731,901 718,901 731,901 753,901 750,901 827,901 741,901 754,901 838,901 837,901 732,901 828,901 827,901 833,901 835,901 747,901 733,901 832,901 729,901 754,901 829,901 753,901 684,901 724,901 742,901 677,901 827,901 830,902 753,902 829,902 829,902 722,902 830,902 829,902 754,902 742,902 830,902 750,902 828,902 673,902 682,902 753,902 741,902 732,902 749,902 754,902 750,902 746,902 752,902 834,902 832,902 827,902 727,903 742,903 717,903 741,903 831,903 753,903 842,903 740,903 748,903 753,903 833,903 730,903 745,903 749,903 723,903 828,903 662,903 745,903 741,903 828,904 837,904 743,904 748,904 733,904 832,904 751,904 831,904 736,904 744,904 832,904 674,904 829,904 831,904 834,904 743,904 833,904 749,904 747,904 831,904 730,905 845,905 734,905 748,905 749,905 870,905 716,905 839,905 747,905 826,905 827,905 849,905 686,905 713,905 736,905 747,905 754,905 836,905 737,905 686,905 730,905 827,905 755,905 753,906 736,906 863,906 751,906 735,906 731,906 746,906 754,906 739,906 707,906 745,906 751,906 826,906 724,906 752,906 754,906 751,906 836,906 838,906 753,906 747,906 721,906 751,906 744,906 830,906 739,906 754,906 829,906 651,906 756,906 830,906 747,906 701,907 747,907 748,907 751,907 740,907 746,907 733,907 688,907 827,907 752,907 829,907 751,907 832,907 753,907 833,907 746,907 726,907 830,907 830,907 747,907 747,908 744,908 731,908 749,908 743,908 831,908 718,908 835,908 750,908 838,908 734,908 751,908 753,908 825,908 753,908 833,908 747,908 825,908 748,908 733,908 743,908 842,908 741,908 828,908 693,908 830,908 826,908 838,909 746,909 747,909 731,909 834,909 751,909 747,909 757,909 753,909 828,909 836,909 753,909 755,909 745,909 829,909 835,909 837,909 746,909 757,909 719,909 747,909 825,909 728,909 747,909 834,909 743,909 755,909 749,909 835,909 844,910 737,910 717,910 843,910 707,910 756,910 694,910 748,910 831,910 688,910 757,910 825,910 754,910 750,910 756,910 824,910 837,910 831,910 751,910 674,910 756,910 836,910 755,910 738,910 828,910 756,911 755,911 826,911 830,911 742,911 709,911 836,911 748,911 698,911 752,911 745,911 750,911 828,911 673,911 832,911 734,911 828,911 758,911 829,911 827,911 751,911 715,911 753,911 832,911 825,912 739,912 745,912 841,912 747,912 868,912 824,912 828,912 684,912 832,912 731,912 746,912 830,912 753,912 825,912 824,912 825,912 751,912 754,912 758,912 837,912 757,912 829,912 829,912 750,912 758,912 758,912 736,912 751,912 747,912 755,912 713,913 827,913 749,913 830,913 830,913 751,913 835,913 826,913 711,913 754,913 831,913 836,913 824,913 756,913 825,913 759,913 758,913 759,913 732,913 827,913 743,913 749,913 826,913 752,913 831,914 825,914 726,914 836,914 835,914 750,914 828,914 838,914 826,914 751,914 833,914 830,914 750,914 750,914 825,914 750,914 751,914 748,914 747,914 835,914 734,914 742,914 827,914 751,914 748,914 825,915 757,915 738,915 730,915 836,915 829,915 753,915 829,915 754,915 671,915 829,915 824,915 751,915 681,915 750,915 824,915 834,915 757,915 729,916 752,916 673,916 827,916 722,916 831,916 826,916 756,916 727,916 851,916 834,916 687,916 737,916 755,916 752,916 752,916 753,916 836,916 836,916 827,916 757,916 718,916 830,916 736,917 754,917 824,917 823,917 749,917 754,917 743,917 733,917 754,917 709,917 829,917 747,917 746,917 742,917 826,917 662,917 754,917 737,917 756,917 744,917 845,917 752,917 841,917 825,917 741,917 730,917 739,917 746,917 826,917 837,917 734,917 758,917 825,917 742,917 823,918 758,918 824,918 827,918 726,918 746,918 740,918 761,918 756,918 758,918 733,918 831,918 759,918 738,918 760,918 835,918 837,918 730,918 829,918 715,918 762,918 834,918 754,918 827,918 759,918 835,918 756,918 758,919 831,919 742,919 745,919 756,919 738,919 758,919 822,919 687,919 828,919 831,919 823,919 755,919 739,919 736,919 822,920 736,920 825,920 824,920 756,920 699,920 830,920 740,920 759,920 730,920 759,920 828,920 742,920 733,920 749,920 830,920 833,920 741,920 758,920 693,920 687,920 733,920 824,920 827,920 755,920 830,920 756,920 762,920 741,921 750,921 756,921 719,921 760,921 755,921 746,921 708,921 757,921 716,921 760,921 760,921 732,921 756,921 829,921 822,921 863,921 852,921 827,921 824,921 835,921 758,921 757,921 763,921 758,921 828,921 822,921 752,921 823,921 759,921 822,921 700,922 749,922 831,922 823,922 758,922 750,922 825,922 754,922 835,922 838,922 826,922 745,922 758,922 760,922 823,922 825,922 761,922 828,922 828,923 740,923 762,923 754,923 757,923 739,923 752,923 755,923 762,923 758,923 760,923 829,923 723,923 730,923 755,923 734,923 759,923 758,923 702,923 744,923 827,923 828,923 821,923 758,923 760,923 750,923 828,923 821,923 835,923 831,924 826,924 836,924 823,924 759,924 763,924 744,924 747,924 660,924 765,924 822,924 716,924 762,924 825,924 749,924 764,924 762,924 760,924 830,925 732,925 830,925 761,925 822,925 759,925 757,925 757,925 827,925 759,925 755,925 756,925 838,925 733,925 849,925 754,925 826,925 743,925 840,925 767,925 759,925 724,925 822,925 723,925 823,925 725,925 740,925 765,925 751,926 765,926 760,926 749,926 760,926 723,926 746,926 838,926 760,926 758,926 756,926 763,926 820,926 833,926 823,926 737,926 827,926 827,926 747,926 736,926 757,926 822,926 729,927 836,927 821,927 758,927 764,927 714,927 765,927 707,927 821,927 824,927 746,927 703,927 753,927 762,927 824,927 735,927 672,927 759,927 751,927 755,927 763,927 761,927 830,927 764,927 679,927 755,927 824,927 826,927 734,927 767,927 693,927 818,927 755,928 750,928 763,928 826,928 753,928 823,928 694,928 725,928 749,928 756,928 739,928 824,928 745,928 836,928 767,928 764,928 738,928 762,928 818,928 738,928 764,928 739,928 752,928 818,928 754,928 703,929 755,929 757,929 824,929 823,929 749,929 766,929 721,929 745,929 821,929 768,929 747,929 750,929 761,929 822,929 752,929 760,929 831,929 820,929 824,929 752,929 761,930 758,930 749,930 819,930 750,930 822,930 749,930 826,930 826,930 764,930 743,930 838,930 823,930 759,930 686,930 822,930 822,930 763,930 769,930 818,930 825,930 760,930 827,930 752,930 756,931 764,931 700,931 834,931 720,931 763,931 689,931 824,931 761,931 753,931 768,931 767,931 816,931 748,931 759,931 760,931 849,931 825,931 728,931 756,931 756,931 768,931 752,931 763,931 752,931 834,931 755,931 766,931 754,931 744,931 767,931 763,931 757,931 733,931 761,932 741,932 817,932 754,932 769,932 826,932 760,932 821,932 707,932 762,932 762,932 819,932 761,932 762,932 728,932 828,932 826,932 749,932 761,932 727,932 822,932 762,933 824,933 765,933 725,933 818,933 832,933 769,933 752,933 754,933 747,933 692,933 741,933 765,933 768,933 757,933 761,933 717,933 765,933 757,933 817,933 766,933 826,933 820,933 828,933 752,933 754,933 743,933 672,933 720,933 758,933 768,933 730,933 749,933 816,933 767,933 771,933 759,933 749,933 765,934 817,934 822,934 756,934 824,934 814,934 823,934 756,934 755,934 740,934 819,934 749,934 767,934 823,934 821,934 764,934 739,934 831,934 818,934 752,934 832,934 816,935 815,935 735,935 814,935 761,935 817,935 740,935 818,935 756,935 750,935 773,935 760,935 764,935 742,935 762,935 768,935 772,935 829,935 756,935 764,935 759,935 820,935 772,935 815,936 757,936 765,936 815,936 771,936 814,936 818,936 834,936 818,936 770,936 768,936 741,936 820,936 833,936 760,936 759,936 726,936 758,936 768,936 733,936 737,936 762,936 759,936 830,936 816,936 817,936 731,936 768,936 747,936 773,936 824,936 822,936 821,936 758,936 766,936 764,937 819,937 728,937 815,937 765,937 771,937 769,937 770,937 820,937 752,937 761,937 764,937 755,937 764,937 760,937 748,937 773,937 817,937 827,937 776,937 773,937 763,937 742,937 745,937 766,938 773,938 706,938 765,938 763,938 811,938 775,938 771,938 775,938 769,938 739,938 766,938 765,938 818,938 810,938 762,938 769,938 775,938 824,938 770,938 769,938 809,938 814,938 769,938 679,938 832,938 816,938 824,938 826,939 826,939 813,939 756,939 763,939 809,939 818,939 762,939 768,939 769,939 809,939 762,939 749,939 778,939 770,939 759,939 768,939 829,939 820,939 761,939 778,939 770,939 774,939 743,939 774,939 808,939 765,939 814,939 769,939 761,939 778,939 761,939 815,940 831,940 767,940 809,940 716,940 833,940 815,940 812,940 808,940 765,940 823,940 736,940 689,940 814,940 733,940 769,940 779,940 809,940 777,940 673,940 809,940 772,940 741,940 761,940 812,940 750,940 680,940 768,940 763,940 774,940 776,940 766,940 818,940 775,940 807,941 773,941 812,941 754,941 777,941 777,941 828,941 753,941 817,941 768,941 781,941 762,941 781,941 768,941 818,941 772,941 758,941 751,941 779,941 817,941 762,941 737,941 726,941 778,941 740,941 691,941 813,941 782,941 776,941 814,941 813,941 748,941 733,941 775,941 759,941 758,941 809,941 771,941 778,942 742,942 727,942 744,942 772,942 775,942 765,942 814,942 772,942 805,942 815,942 807,942 747,942 806,942 804,942 819,942 804,942 813,942 779,942 779,942 778,942 780,942 826,942 806,942 781,942 765,942 783,942 721,942 747,942 721,942 821,942 824,942 808,942 803,942 768,943 743,943 810,943 813,943 777,943 749,943 784,943 768,943 802,943 769,943 814,943 772,943 804,943 783,943 768,943 672,943 790,943 803,943 802,943 802,943 797,943 804,943 751,943 791,943 728,943 840,943 764,943 780,943 736,943 775,943 784,943 716,943 773,943 783,943 817,943 803,943 712,943 791,943 746,943 886,943 807,943 819,943 824,944 764,944 812,944 770,944 792,944 778,944 750,944 816,944 787,944 776,944 756,944 769,944 822,944 799,944 783,944 775,944 774,944 695,944 717,944 762,944 787,944 799,944 812,944 804,944 795,944 764,944 783,944 758,944 785,944 778,944 767,944 786,944 773,944 801,944 777,944 774,944 739,944 849,944 781,944 757,944 764,944 806,944 776,944 745,944 738,944 803,944 811,944 780,944 777,945 807,945 742,945 805,945 781,945 789,945 811,945 791,945 794,945 765,945 820,945 772,945 797,945 794,945 807,945 794,945 699,945 771,945 778,945 805,945 765,945 771,945 784,945 784,945 725,945 793,945 818,945 675,945 762,945 834,945 809,945 793,945 770,945 819,945 774,945 777,945 720,945 774,945 809,945 815,945 806,945 778,945 717,945 817,945 814,945 794,945 719,945 834,946 786,946 768,946 764,946 802,946 802,946 793,946 782,946 772,946 788,946 753,946 804,946 796,946 766,946 728,946 771,946 798,946 696,946 780,946 807,946 820,946 778,946 800,946 782,946 767,946 801,946 800,946 778,946 809,946 802,946 787,946 820,946 804,946 769,946 771,946 799,946 726,946 817,946 768,946 811,946 778,946 778,947 807,947 766,947 797,947 776,947 791,947 799,947 797,947 775,947 724,947 761,947 739,947 802,947 773,947 783,947 804,947 817,947 809,947 814,947 793,947 775,947 811,947 730,947 811,947 815,947 760,947 795,947 773,947 816,947 783,947 807,947 773,947 782,947 767,947 769,947 746,947 824,947 806,947 708,947 772,947 800,947 703,947 795,947 829,947 776,947 781,947 769,947 781,948 799,948 798,948 752,948 726,948 754,948 803,948 788,948 796,948 796,948 791,948 793,948 805,948 784,948 787,948 785,948 796,948 782,948 794,948 753,948 770,948 703,948 788,948 816,948 808,948 781,948 776,948 756,948 767,948 798,948 775,948 731,948 804,948 752,948 806,948 802,948 820,948 794,948 786,948 780,948 799,948 835,948 795,948 798,948 785,948 820,948 766,949 814,949 764,949 797,949 742,949 790,949 793,949 799,949 838,949 810,949 759,949 735,949 814,949 816,949 801,949 808,949 800,949 785,949 776,949 788,949 785,949 771,949 782,949 792,949 830,949 780,949 773,949 767,949 799,950 793,950 757,950 777,950 786,950 805,950 787,950 792,950 805,950 801,950 811,950 784,950 754,950 778,950 811,950 758,950 803,950 785,950 784,950 786,950 776,950 752,950 739,950 733,950 810,950 816,950 799,950 824,950 756,950 772,950 802,951 798,951 788,951 789,951 798,951 781,951 763,951 810,951 793,951 778,951 793,951 789,951 774,951 800,951 788,951 783,951 801,951 805,951 778,951 738,951 742,951 781,951 785,951 762,951 815,951 791,951 791,951 795,951 806,951 749,951 711,951 771,951 793,951 814,951 814,951 815,951 789,952 785,952 767,952 781,952 779,952 783,952 810,952 769,952 772,952 772,952 814,952 790,952 788,952 806,952 781,952 784,952 743,952 799,952 785,952 783,952 783,952 781,952 784,952 814,952 823,952 744,953 718,953 828,953 784,953 782,953 834,953 801,953 778,953 771,953 795,953 777,953 796,953 773,953 787,953 693,953 789,953 831,953 783,953 709,953 820,954 822,954 814,954 776,954 784,954 748,954 785,954 772,954 811,954 788,954 722,954 773,954 795,954 793,954 752,954 727,954 786,954 817,954 797,954 753,955 822,955 701,955 804,955 782,955 770,955 749,955 803,955 774,955 762,956 754,956 792,956 777,956 771,956 798,956 772,956 814,956 724,956 809,956 779,956 776,956 731,956 810,956 809,956 763,957 806,957 739,957 780,957 813,957 785,957 772,957 836,957 766,957 784,957 809,957 782,957 742,957 772,957 786,957 709,957 737,957 781,957 795,957 765,957 792,957 733,958 734,958 812,958 759,958 750,958 808,958 800,958 727,958 776,958 808,958 778,958 785,958 754,958 813,958 780,958 778,958 804,958 781,958 765,958 795,959 790,959 841,959 788,959 763,959 726,959 784,959 760,959 781,959 800,959 770,959 799,959 785,959 780,960 808,960 748,960 755,960 785,960 774,960 753,960 776,960 844,960 792,960 780,960 746,960 750,961 790,961 698,961 748,961 779,961 776,961 783,961 663,961 778,961 784,961 763,961 771,961 676,961 785,961 782,962 755,962 765,962 772,962 699,962 776,963 745,963 788,963 727,963 764,963 757,963 776,963 785,963 786,963 780,964 713,964 718,964 788,964 725,964 805,964 787,964 821,964 794,964 788,964 731,965 742,965 760,965 759,965 785,965 673,965 811,965 748,965 779,965 787,965 807,965 773,965 757,965 780,966 823,966 886,966 721,966 797,966 815,967 775,967 842,967 777,967 827,967 776,967 708,968 750,968 819,968 791,968 753,968 765,968 768,968 784,968 759,969 745,969 751,969 748,969 798,969 752,969 774,969 749,970 722,970 773,970 720,971 819,971 808,971 735,971 752,971 744,971 713,972 760,973 674,973 718,973 761,973 757,973 786,974 754,974 751,974 739,974 701,974 683,975 755,975 762,975 785,975 809,975 759,976 789,976 782,977 740,977 763,978 728,978 777,979 724,979 730,979 746,979 723,979 794,979 842,979 683,980 737,980 778,980 718,981 776,981 777,981 738,981 753,981 684,981 860,982 689,982 817,982 733,983 716,984" fill="none" stroke="none" marker-start="url(#dt)" marker-mid="url(#dt)" marker-end="url(#dt)"/></g>
<rect x="49.5" y="312.5" width="204.3" height="184.5" fill="none" stroke="#000" stroke-width="2"/>
<rect x="305" y="312.5" width="204" height="184.0" fill="none" stroke="#000" stroke-width="2"/>
<rect x="46.3" y="351.9" width="2.5" height="1.2" fill="#000"/>
<rect x="46.3" y="397.09999999999997" width="2.5" height="1.2" fill="#000"/>
<rect x="46.3" y="443.4" width="2.5" height="1.2" fill="#000"/>
<rect x="46.3" y="488.9" width="2.5" height="1.2" fill="#000"/>
<rect x="56.4" y="497" width="1.2" height="2.4" fill="#000"/>
<rect x="107.4" y="497" width="1.2" height="2.4" fill="#000"/>
<rect x="158.4" y="497" width="1.2" height="2.4" fill="#000"/>
<rect x="209.9" y="497" width="1.2" height="2.4" fill="#000"/>
<rect x="301.8" y="351.9" width="2.5" height="1.2" fill="#000"/>
<rect x="301.8" y="398.7" width="2.5" height="1.2" fill="#000"/>
<rect x="301.8" y="443.4" width="2.5" height="1.2" fill="#000"/>
<rect x="301.8" y="489.2" width="2.5" height="1.2" fill="#000"/>
<rect x="311.4" y="497" width="1.2" height="2.4" fill="#000"/>
<rect x="377.4" y="497" width="1.2" height="2.4" fill="#000"/>
<rect x="444.7" y="497" width="1.2" height="2.4" fill="#000"/>
<text x="116.3" y="286.6" font-size="14" fill="#111" textLength="71.3" lengthAdjust="spacingAndGlyphs">Ser 5 pol II</text>
<text x="120.2" y="304.0" font-size="14" fill="#111" textLength="63.7" lengthAdjust="spacingAndGlyphs">All Genes</text>
<text x="379.5" y="285.3" font-size="14" fill="#111" textLength="71.3" lengthAdjust="spacingAndGlyphs">Ser 2 pol II</text>
<text x="383.8" y="302.5" font-size="14" fill="#111" textLength="63.7" lengthAdjust="spacingAndGlyphs">All Genes</text>
<text x="49.0" y="516.2" font-size="13.2" fill="#000" stroke="#000" stroke-width="0.35" textLength="32.2" lengthAdjust="spacingAndGlyphs">1e-02</text>
<text x="92.4" y="516.2" font-size="13.2" fill="#000" stroke="#000" stroke-width="0.35" textLength="31.5" lengthAdjust="spacingAndGlyphs">1e-01</text>
<text x="156.0" y="516.2" font-size="13.2" fill="#000" stroke="#000" stroke-width="0.35" textLength="6.5" lengthAdjust="spacingAndGlyphs">1</text>
<text x="195.2" y="516.2" font-size="13.2" fill="#000" stroke="#000" stroke-width="0.35" textLength="27.0" lengthAdjust="spacingAndGlyphs">1e01</text>
<text x="302.3" y="514.4" font-size="13.2" fill="#000" stroke="#000" stroke-width="0.35" textLength="33" lengthAdjust="spacingAndGlyphs">1e-03</text>
<text x="366.3" y="514.4" font-size="13.2" fill="#000" stroke="#000" stroke-width="0.35" textLength="31.5" lengthAdjust="spacingAndGlyphs">1e-01</text>
<text x="411.2" y="514.4" font-size="13.2" fill="#000" stroke="#000" stroke-width="0.35" textLength="6.5" lengthAdjust="spacingAndGlyphs">1</text>
<text x="434.6" y="514.4" font-size="13.2" fill="#000" stroke="#000" stroke-width="0.35" textLength="27.0" lengthAdjust="spacingAndGlyphs">1e01</text>
<text x="109.2" y="534.8" font-size="14.8" fill="#222" textLength="99" lengthAdjust="spacingAndGlyphs">Gene Body Change</text>
<text x="357.5" y="535.2" font-size="14.8" fill="#222" textLength="98.5" lengthAdjust="spacingAndGlyphs">Gene Body Change</text>
<text transform="translate(41.8,353.4) rotate(-90)" x="0" y="0" font-size="13.2" fill="#000" text-anchor="middle" stroke="#000" stroke-width="0.35" textLength="26" lengthAdjust="spacingAndGlyphs">1e01</text>
<text transform="translate(41.8,398.2) rotate(-90)" x="0" y="0" font-size="13.2" fill="#000" text-anchor="middle" stroke="#000" stroke-width="0.35" textLength="6.5" lengthAdjust="spacingAndGlyphs">1</text>
<text transform="translate(41.8,446.2) rotate(-90)" x="0" y="0" font-size="13.2" fill="#000" text-anchor="middle" stroke="#000" stroke-width="0.35" textLength="31.5" lengthAdjust="spacingAndGlyphs">1e-01</text>
<text transform="translate(41.8,490.5) rotate(-90)" x="0" y="0" font-size="13.2" fill="#000" text-anchor="middle" stroke="#000" stroke-width="0.35" textLength="31.5" lengthAdjust="spacingAndGlyphs">1e-02</text>
<text transform="translate(300.2,352.6) rotate(-90)" x="0" y="0" font-size="13.2" fill="#000" text-anchor="middle" stroke="#000" stroke-width="0.35" textLength="26" lengthAdjust="spacingAndGlyphs">1e01</text>
<text transform="translate(300.2,399.6) rotate(-90)" x="0" y="0" font-size="13.2" fill="#000" text-anchor="middle" stroke="#000" stroke-width="0.35" textLength="6.5" lengthAdjust="spacingAndGlyphs">1</text>
<text transform="translate(300.2,445.6) rotate(-90)" x="0" y="0" font-size="13.2" fill="#000" text-anchor="middle" stroke="#000" stroke-width="0.35" textLength="31.5" lengthAdjust="spacingAndGlyphs">1e-01</text>
<text transform="translate(300.2,490.5) rotate(-90)" x="0" y="0" font-size="13.2" fill="#000" text-anchor="middle" stroke="#000" stroke-width="0.35" textLength="31.5" lengthAdjust="spacingAndGlyphs">1e-03</text>
<text transform="translate(23.9,399) rotate(-90)" x="0" y="0" font-size="15.2" fill="#222" text-anchor="middle" textLength="100.5" lengthAdjust="spacingAndGlyphs">TSS Region Change</text>
<text transform="translate(281.7,398.7) rotate(-90)" x="0" y="0" font-size="15.2" fill="#222" text-anchor="middle" textLength="99" lengthAdjust="spacingAndGlyphs">TSS Region Change</text>
<path d="M172.8 388.9C185 386.6 200 387.6 218.5 388.2" fill="none" stroke="#dc3a3a" stroke-width="1.05"/>
<path d="M171.5 394.8C190 399 205 402.6 220.3 404.7" fill="none" stroke="#dc3a3a" stroke-width="1.05"/>
<path d="M165.5 416.4C185 419 200 420.6 219 420.6" fill="none" stroke="#dc3a3a" stroke-width="1.05"/>
<circle cx="170.4" cy="389.5" r="1.7" fill="#1edc3c"/>
<circle cx="167.7" cy="393.9" r="1.7" fill="#1edc3c"/>
<circle cx="161.5" cy="415.6" r="1.7" fill="#1edc3c"/>
<text x="220.2" y="393.2" font-size="11" fill="#000" stroke="#000" stroke-width="0.3" textLength="22" lengthAdjust="spacingAndGlyphs">Hbb</text>
<text x="220.8" y="407.8" font-size="11" fill="#000" stroke="#000" stroke-width="0.3" textLength="25.8" lengthAdjust="spacingAndGlyphs">Hba1</text>
<text x="219.6" y="423.8" font-size="11" fill="#000" stroke="#000" stroke-width="0.3" textLength="27.4" lengthAdjust="spacingAndGlyphs">Gypa</text>
<path d="M416 393.8C430 392.6 450 392.5 464 392.6" fill="none" stroke="#dc3a3a" stroke-width="1.05"/>
<path d="M411.5 403C430 405 450 407.5 471 408.8" fill="none" stroke="#dc3a3a" stroke-width="1.05"/>
<path d="M407.7 411.7C425 416 445 421.5 463.5 424.6" fill="none" stroke="#dc3a3a" stroke-width="1.05"/>
<circle cx="412.7" cy="393.2" r="1.7" fill="#1edc3c"/>
<circle cx="406.9" cy="401.1" r="1.7" fill="#1edc3c"/>
<circle cx="402" cy="409.2" r="1.7" fill="#1edc3c"/>
<text x="463.0" y="398.3" font-size="11" fill="#000" stroke="#000" stroke-width="0.3" textLength="22" lengthAdjust="spacingAndGlyphs">Hbb</text>
<text x="463.0" y="413.7" font-size="11" fill="#000" stroke="#000" stroke-width="0.3" textLength="25.8" lengthAdjust="spacingAndGlyphs">Hba1</text>
<text x="463.0" y="429.0" font-size="11" fill="#000" stroke="#000" stroke-width="0.3" textLength="27.0" lengthAdjust="spacingAndGlyphs">Gypa</text>
<text x="12.4" y="574.2" font-size="17.5" fill="#000" stroke="#000" stroke-width="0.9" font-weight="bold">H</text>
<rect x="49.3" y="571.6" width="421.5" height="203.4" fill="#fafafa"/>
<rect x="49.3" y="571.6" width="1" height="203.4" fill="#e6e6e6"/>
<path d="M50 607.3V601.2H51.5V607.3ZM51.5 607.3V605.8H60V607.3ZM60 607.3V604.3H63V607.3ZM63 607.3V605H75V607.3ZM75 607.3V604H77V607.3ZM77 607.3V605.5H80V607.3ZM92 607.3V600.7H94.5V607.3ZM101 607.3V605H103V607.3ZM103 607.3V604.5H106V607.3ZM106 607.3V602.2H110V607.3ZM110 607.3V604.5H113V607.3ZM120 607.3V604.5H125V607.3ZM125 607.3V605.5H140V607.3ZM140 607.3V604.5H143V607.3ZM143 607.3V593.8H146V607.3ZM146 607.3V606H153V607.3ZM153 607.3V603.3H157V607.3ZM157 607.3V593.8H160V607.3ZM160 607.3V603H162V607.3ZM162 607.3V606H171V607.3ZM171 607.3V598.3H172V607.3ZM172 607.3V597.2H175V607.3ZM175 607.3V604.6H178V607.3ZM178 607.3V600.4H183V607.3ZM183 607.3V606.3H195V607.3ZM195 607.3V601.4H199V607.3ZM199 607.3V593.6H201V607.3ZM201 607.3V600.4H204V607.3ZM204 607.3V602.5H207V607.3ZM207 607.3V604.6H214V607.3ZM214 607.3V602.5H219V607.3ZM219 607.3V599.3H225V607.3ZM225 607.3V597.2H228V607.3ZM228 607.3V598.7H232V607.3ZM232 607.3V590.2H235V607.3ZM235 607.3V599.3H238V607.3ZM238 607.3V593.6H241V607.3ZM241 607.3V600H244V607.3ZM244 607.3V602.5H248V607.3ZM248 607.3V600H250V607.3ZM250 607.3V605H258V607.3ZM258 607.3V604.6H265V607.3ZM265 607.3V606H283V607.3ZM283 607.3V605H290V607.3ZM290 607.3V606H295V607.3ZM295 607.3V604.2H300V607.3ZM300 607.3V606H313V607.3ZM313 607.3V602.5H315V607.3ZM315 607.3V605.6H326V607.3ZM326 607.3V600H328V607.3ZM328 607.3V604.6H332V607.3ZM332 607.3V606H337V607.3ZM337 607.3V602H339V607.3ZM339 607.3V604.6H345V607.3ZM345 607.3V606H350V607.3ZM350 607.3V606.2H360V607.3ZM367.5 607.3V605H370V607.3ZM422.5 607.3V606H424.5V607.3Z" fill="#0000b4"/>
<rect x="50.3" y="607" width="420.3" height="1.7" fill="#7070da"/>
<path d="M50 654V650.7H52V654ZM52 654V652.8H57V654ZM57 654V645.4H58V654ZM58 654V639H61V654ZM61 654V647.5H62V654ZM62 654V652.8H66V654ZM66 654V648.6H68V654ZM68 654V649.6H72V654ZM72 654V644.3H73V654ZM73 654V639H76V654ZM76 654V647.5H78V654ZM78 654V649.6H80V654ZM80 654V652.2H85V654ZM92 654V647H96V654ZM103 654V640H106V654ZM106 654V647.5H108V654ZM108 654V643.7H111V654ZM111 654V647H113V654ZM113 654V652.8H120V654ZM120 654V651.7H127V654ZM127 654V649.2H129V654ZM129 654V652.8H135V654ZM135 654V650.7H138V654ZM138 654V652.2H147V654ZM147 654V650H150V654ZM150 654V651.7H155V654ZM155 654V641H157V654ZM157 654V633.8H160V654ZM160 654V649.6H162V654ZM162 654V649.2H166V654ZM166 654V652.8H172V654ZM172 654V639H174V654ZM174 654V631H175V654ZM175 654V639H176V654ZM176 654V649.6H178V654ZM178 654V648.6H182V654ZM182 654V645.4H185V654ZM185 654V649.6H188V654ZM188 654V652.8H193V654ZM193 654V635.2H195V654ZM195 654V637H197V654ZM197 654V635.2H199V654ZM199 654V638.6H202V654ZM202 654V633H203V654ZM203 654V641H204V654ZM204 654V652.8H207V654ZM207 654V646.4H208V654ZM208 654V652.8H214V654ZM214 654V650H220V654ZM220 654V651.7H228V654ZM228 654V636.5H230V654ZM230 654V635.2H232V654ZM232 654V641H234V654ZM234 654V634.4H236V654ZM236 654V637H239V654ZM239 654V641H241V654ZM241 654V628H243V654ZM243 654V649.6H245V654ZM245 654V649H255V654ZM255 654V648H262V654ZM262 654V644.6H266V654ZM266 654V651H268V654ZM268 654V653H272V654ZM272 654V635H274V654ZM274 654V638H275V654ZM275 654V651H276V654ZM276 654V653H283V654ZM283 654V652.6H287V654ZM294 654V649H296V654ZM296 654V644.6H299V654ZM299 654V648H302V654ZM302 654V651H305V654ZM305 654V652.6H312V654ZM320 654V652H322V654ZM322 654V648.8H327V654ZM327 654V640H329V654ZM329 654V648.8H330V654ZM348 654V650H350V654ZM362 654V652H364V654ZM385 654V650.5H387V654ZM427 654V650H429V654Z" fill="#0000b4"/>
<rect x="50.3" y="653.6" width="420.3" height="1.8" fill="#7070da"/>
<rect x="50.3" y="700.7" width="420.3" height="1.8" fill="#cfcfcf"/>
<path d="M51 701.6V699.6H53V701.6ZM53 701.6V698.1H57V701.6ZM57 701.6V700.3H59V701.6ZM59 701.6V699.6H63V701.6ZM63 701.6V697H67V701.6ZM67 701.6V700H68V701.6ZM73 701.6V696.4H77V701.6ZM77 701.6V700.3H78V701.6ZM97 701.6V700.2H103V701.6ZM105 701.6V700.2H110V701.6ZM123 701.6V695H125V701.6ZM125 701.6V698.6H126V701.6ZM135 701.6V699H140V701.6ZM140 701.6V700H145V701.6ZM150 701.6V698.6H152V701.6ZM152 701.6V693.7H155V701.6ZM155 701.6V693H157V701.6ZM157 701.6V698.4H160V701.6ZM163 701.6V694.8H165V701.6ZM165 701.6V699.4H166V701.6ZM178 701.6V696.3H182V701.6ZM182 701.6V697.3H187V701.6ZM187 701.6V698.4H189V701.6ZM193 701.6V696.3H195V701.6ZM196 701.6V698.4H200V701.6ZM200 701.6V697.3H203V701.6ZM210 701.6V700.5H215V701.6ZM216 701.6V698.4H218V701.6ZM218 701.6V699.4H225V701.6ZM226 701.6V696.9H228V701.6ZM228 701.6V698.4H230V701.6ZM231 701.6V693H233V701.6ZM233 701.6V682.5H235V701.6ZM235 701.6V677.2H237V701.6ZM237 701.6V688.8H239V701.6ZM239 701.6V698.4H241V701.6ZM241 701.6V697.3H246V701.6ZM246 701.6V694.1H248V701.6ZM248 701.6V689.9H250V701.6ZM250 701.6V698.4H254V701.6ZM254 701.6V697.3H256V701.6ZM256 701.6V682H258V701.6ZM258 701.6V684.6H260V701.6ZM260 701.6V697.3H262V701.6ZM262 701.6V699.4H268V701.6ZM280 701.6V699.8H295V701.6ZM295 701.6V697.3H296V701.6ZM296 701.6V688H297V701.6ZM297 701.6V668.8H300V701.6ZM300 701.6V678H301.2V701.6ZM301.2 701.6V697.3H302V701.6ZM302 701.6V699.8H315V701.6ZM315 701.6V697.3H317V701.6ZM322 701.6V698.4H327V701.6ZM337 701.6V699H344V701.6ZM426 701.6V699.5H428V701.6ZM463 701.6V699H466V701.6Z" fill="#ff0010"/>
<rect x="50.3" y="748.3" width="420.3" height="1.6" fill="#cfcfcf"/>
<path d="M50 749.2V746.3H57V749.2ZM57 749.2V742H59V749.2ZM59 749.2V746.7H60V749.2ZM60 749.2V748.3H63V749.2ZM63 749.2V738.3H65V749.2ZM65 749.2V728.8H67V749.2ZM67 749.2V736.2H69V749.2ZM69 749.2V746.3H70V749.2ZM70 749.2V748.3H74V749.2ZM74 749.2V742.5H76V749.2ZM76 749.2V737.2H78V749.2ZM78 749.2V742.5H80V749.2ZM80 749.2V746.3H82V749.2ZM82 749.2V748.3H90V749.2ZM90 749.2V746.7H100V749.2ZM100 749.2V748.3H107V749.2ZM107 749.2V747.2H120V749.2ZM120 749.2V746.3H124V749.2ZM124 749.2V742H126V749.2ZM126 749.2V743.6H130V749.2ZM130 749.2V746.7H135V749.2ZM135 749.2V748.3H143V749.2ZM143 749.2V747.2H145V749.2ZM145 749.2V748.3H151V749.2ZM151 749.2V744.2H160V749.2ZM160 749.2V745.7H162V749.2ZM162 749.2V747.2H175V749.2ZM175 749.2V748.3H176V749.2ZM176 749.2V746.3H179V749.2ZM179 749.2V740.8H182V749.2ZM182 749.2V742.5H184V749.2ZM184 749.2V747.2H188V749.2ZM188 749.2V748.3H193V749.2ZM193 749.2V742H197V749.2ZM197 749.2V740H199V749.2ZM199 749.2V744.6H201V749.2ZM201 749.2V746.3H205V749.2ZM205 749.2V747.8H215V749.2ZM215 749.2V746.7H225V749.2ZM225 749.2V748.3H227V749.2ZM227 749.2V740.8H229V749.2ZM229 749.2V738.3H231V749.2ZM231 749.2V735.7H233V749.2ZM233 749.2V737.2H236V749.2ZM236 749.2V742.5H238V749.2ZM238 749.2V744.6H240V749.2ZM240 749.2V742.5H243V749.2ZM243 749.2V739.3H245V749.2ZM245 749.2V746.7H247V749.2ZM247 749.2V737.8H250V749.2ZM250 749.2V735.1H253V749.2ZM253 749.2V736.2H256V749.2ZM256 749.2V742.5H258V749.2ZM258 749.2V737.8H262V749.2ZM262 749.2V741.4H264V749.2ZM264 749.2V737.2H265V749.2ZM265 749.2V741.4H268V749.2ZM268 749.2V746.7H270V749.2ZM270 749.2V748.3H272V749.2ZM272 749.2V747.2H276V749.2ZM276 749.2V748.3H283V749.2ZM283 749.2V746.7H287V749.2ZM287 749.2V748.3H294V749.2ZM294 749.2V742H296V749.2ZM296 749.2V738.3H299V749.2ZM299 749.2V734H301V749.2ZM301 749.2V740.4H303V749.2ZM303 749.2V744.6H306V749.2ZM306 749.2V746.3H308V749.2ZM308 749.2V748.3H310V749.2ZM310 749.2V744.6H313V749.2ZM313 749.2V742H316V749.2ZM316 749.2V745.7H318V749.2ZM318 749.2V747.2H323V749.2ZM323 749.2V741.4H327V749.2ZM327 749.2V744.6H329V749.2ZM329 749.2V746.7H331V749.2ZM331 749.2V748.3H341V749.2ZM341 749.2V746.7H344V749.2ZM344 749.2V748.3H352V749.2ZM352 749.2V747.2H355V749.2ZM355 749.2V748.3H364V749.2ZM364 749.2V747.6H366V749.2ZM366 749.2V748.3H367V749.2Z" fill="#ff0010"/>
<path d="M383 749V747.2H385V749ZM421 749V747.2H423V749ZM427 749V747.2H429V749ZM448 749V747.2H450V749ZM465 749V747.2H467V749Z" fill="#ff9aa2"/>
<text x="59.2" y="582.5" font-size="12.6" fill="#111" textLength="28" lengthAdjust="spacingAndGlyphs">1000</text>
<text x="59.2" y="627.5" font-size="12.6" fill="#111" textLength="28" lengthAdjust="spacingAndGlyphs">1000</text>
<text x="59.2" y="670.2" font-size="12.6" fill="#111" textLength="28" lengthAdjust="spacingAndGlyphs">1000</text>
<text x="59.2" y="721.3" font-size="12.6" fill="#111" textLength="28" lengthAdjust="spacingAndGlyphs">1000</text>
<text x="349.7" y="589.9" font-size="13" fill="#16528e" textLength="97.5" lengthAdjust="spacingAndGlyphs">Ser5 Pol II Day 7</text>
<text x="350.3" y="630.0" font-size="13" fill="#16528e" textLength="96.9" lengthAdjust="spacingAndGlyphs">Ser2 Pol II Day 7</text>
<text x="346.2" y="680.8" font-size="13" fill="#c41c36" textLength="105.3" lengthAdjust="spacingAndGlyphs">Ser5 Pol II Day 10</text>
<text x="346.2" y="718.8" font-size="13" fill="#c41c36" textLength="105.3" lengthAdjust="spacingAndGlyphs">Ser2 Pol II Day 10</text>
<rect x="71" y="762.1" width="254" height="1.7" fill="#5656e2"/>
<rect x="71.3" y="758.7" width="17.5" height="8.6" fill="#0000c0"/>
<rect x="88.6" y="755.2" width="2" height="15.4" fill="#0000c0"/>
<rect x="115.3" y="755.2" width="2" height="15.4" fill="#0000c0"/>
<rect x="132.3" y="755.2" width="2" height="15.4" fill="#0000c0"/>
<rect x="147.3" y="755.2" width="2" height="15.4" fill="#0000c0"/>
<rect x="154.8" y="755.2" width="2" height="15.4" fill="#0000c0"/>
<rect x="160.3" y="755.2" width="2" height="15.4" fill="#0000c0"/>
<rect x="323.6" y="755.2" width="2" height="15.4" fill="#0000c0"/>
<path d="M107.8 760.3L104.3 763L107.8 765.7z" fill="#3434dc"/>
<path d="M175.5 760.3L172.0 763L175.5 765.7z" fill="#3434dc"/>
<path d="M181.1 760.3L177.6 763L181.1 765.7z" fill="#3434dc"/>
<path d="M207.5 760.3L204.0 763L207.5 765.7z" fill="#3434dc"/>
<path d="M213.8 760.3L210.3 763L213.8 765.7z" fill="#3434dc"/>
<path d="M239.9 760.3L236.4 763L239.9 765.7z" fill="#3434dc"/>
<path d="M246.1 760.3L242.6 763L246.1 765.7z" fill="#3434dc"/>
<path d="M272.5 760.3L269.0 763L272.5 765.7z" fill="#3434dc"/>
<path d="M278.3 760.3L274.8 763L278.3 765.7z" fill="#3434dc"/>
<path d="M304.4 760.3L300.9 763L304.4 765.7z" fill="#3434dc"/>
<path d="M310.6 760.3L307.1 763L310.6 765.7z" fill="#3434dc"/>
<path d="M149 759.6L152.2 763L149 766.4z" fill="#0000c0"/>
<text x="55.0" y="771.3" font-size="15" fill="#000" textLength="12.3" lengthAdjust="spacingAndGlyphs">3&#8242;</text>
<text x="342.3" y="771.6" font-size="15" fill="#000" textLength="13.6" lengthAdjust="spacingAndGlyphs">5&#8242;</text>
<rect x="383.1" y="766.1" width="38.1" height="2.2" fill="#184e8c"/>
<text x="386.8" y="793.1" font-size="15" fill="#000" textLength="29.2" lengthAdjust="spacingAndGlyphs">5 kb</text>
<text x="178.4" y="790" font-size="15" fill="#000" textLength="38.8" lengthAdjust="spacingAndGlyphs">GYPA</text>
<path d="M326.7 781.2L332.2 786.9H329.1V808.7H324V786.9H320.9Z" fill="#000"/>
</svg>
</body></html>
